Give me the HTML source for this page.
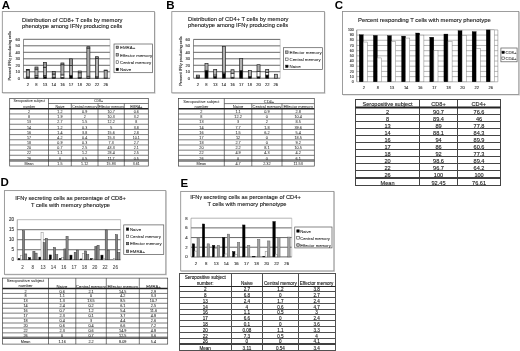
<!DOCTYPE html>
<html lang="en"><head><meta charset="utf-8"><title>Figure</title>
<style>
html,body{margin:0;padding:0;background:#fff;}
body{width:520px;height:351px;overflow:hidden;}
svg{display:block;font-family:"Liberation Sans", sans-serif;}
</style></head><body>
<svg width="520" height="351" viewBox="0 0 520 351">
<rect x="0" y="0" width="520" height="351" fill="#fff"/>
<text x="1.80" y="8.60" font-size="11.5" text-anchor="start" font-weight="bold" fill="#000">A</text>
<line x1="2.80" y1="93.25" x2="155.40" y2="93.25" stroke="#cfcfcf" stroke-width="0.9"/>
<line x1="155.05" y1="12.10" x2="155.05" y2="93.60" stroke="#cfcfcf" stroke-width="0.9"/>
<rect x="2.30" y="11.60" width="152.20" height="81.10" fill="#fff" stroke="#8c8c8c" stroke-width="0.85"/>
<text x="22.00" y="21.60" font-size="5.8" text-anchor="start" font-weight="normal" fill="#222" stroke="#222" stroke-width="0.12">Distribution of CD8+ T cells by memory</text>
<text x="22.00" y="28.10" font-size="5.8" text-anchor="start" font-weight="normal" fill="#222" stroke="#222" stroke-width="0.12">phenotype among IFN<tspan font-size="85%">γ</tspan> producing cells</text>
<line x1="23.50" y1="39.30" x2="110.00" y2="39.30" stroke="#2a2a2a" stroke-width="0.7"/>
<line x1="23.50" y1="45.80" x2="110.00" y2="45.80" stroke="#2a2a2a" stroke-width="0.7"/>
<line x1="23.50" y1="52.30" x2="110.00" y2="52.30" stroke="#2a2a2a" stroke-width="0.7"/>
<line x1="23.50" y1="58.80" x2="110.00" y2="58.80" stroke="#2a2a2a" stroke-width="0.7"/>
<line x1="23.50" y1="65.30" x2="110.00" y2="65.30" stroke="#2a2a2a" stroke-width="0.7"/>
<line x1="23.50" y1="71.80" x2="110.00" y2="71.80" stroke="#2a2a2a" stroke-width="0.7"/>
<line x1="23.50" y1="78.30" x2="110.00" y2="78.30" stroke="#2a2a2a" stroke-width="0.7"/>
<line x1="23.50" y1="39.30" x2="23.50" y2="78.30" stroke="#444" stroke-width="0.6"/>
<line x1="110.00" y1="39.30" x2="110.00" y2="78.30" stroke="#999" stroke-width="0.5"/>
<rect x="26.30" y="77.52" width="3.05" height="0.78" fill="#000" stroke="#222" stroke-width="0.7"/>
<rect x="26.30" y="76.94" width="3.05" height="0.59" fill="#fff" stroke="#222" stroke-width="0.7"/>
<rect x="26.30" y="69.98" width="3.05" height="6.95" fill="#b0b0b0" stroke="#222" stroke-width="0.7"/>
<rect x="26.30" y="69.59" width="3.05" height="0.39" fill="#969696" stroke="#222" stroke-width="0.7"/>
<rect x="34.95" y="77.06" width="3.05" height="1.23" fill="#000" stroke="#222" stroke-width="0.7"/>
<rect x="34.95" y="75.77" width="3.05" height="1.30" fill="#fff" stroke="#222" stroke-width="0.7"/>
<rect x="34.95" y="69.07" width="3.05" height="6.70" fill="#b0b0b0" stroke="#222" stroke-width="0.7"/>
<rect x="34.95" y="66.99" width="3.05" height="2.08" fill="#969696" stroke="#222" stroke-width="0.7"/>
<rect x="43.60" y="76.55" width="3.05" height="1.76" fill="#000" stroke="#222" stroke-width="0.7"/>
<rect x="43.60" y="75.57" width="3.05" height="0.98" fill="#fff" stroke="#222" stroke-width="0.7"/>
<rect x="43.60" y="67.64" width="3.05" height="7.93" fill="#b0b0b0" stroke="#222" stroke-width="0.7"/>
<rect x="43.60" y="62.44" width="3.05" height="5.20" fill="#969696" stroke="#222" stroke-width="0.7"/>
<rect x="52.25" y="77.52" width="3.05" height="0.78" fill="#000" stroke="#222" stroke-width="0.7"/>
<rect x="52.25" y="77.33" width="3.05" height="0.20" fill="#fff" stroke="#222" stroke-width="0.7"/>
<rect x="52.25" y="74.08" width="3.05" height="3.25" fill="#b0b0b0" stroke="#222" stroke-width="0.7"/>
<rect x="52.25" y="71.61" width="3.05" height="2.47" fill="#969696" stroke="#222" stroke-width="0.7"/>
<rect x="60.90" y="77.39" width="3.05" height="0.91" fill="#000" stroke="#222" stroke-width="0.7"/>
<rect x="60.90" y="74.92" width="3.05" height="2.47" fill="#fff" stroke="#222" stroke-width="0.7"/>
<rect x="60.90" y="64.78" width="3.05" height="10.14" fill="#b0b0b0" stroke="#222" stroke-width="0.7"/>
<rect x="60.90" y="62.96" width="3.05" height="1.82" fill="#969696" stroke="#222" stroke-width="0.7"/>
<rect x="69.55" y="75.57" width="3.05" height="2.73" fill="#000" stroke="#222" stroke-width="0.7"/>
<rect x="69.55" y="75.31" width="3.05" height="0.26" fill="#fff" stroke="#222" stroke-width="0.7"/>
<rect x="69.55" y="65.36" width="3.05" height="9.95" fill="#b0b0b0" stroke="#222" stroke-width="0.7"/>
<rect x="69.55" y="58.80" width="3.05" height="6.57" fill="#969696" stroke="#222" stroke-width="0.7"/>
<rect x="78.20" y="77.72" width="3.05" height="0.59" fill="#000" stroke="#222" stroke-width="0.7"/>
<rect x="78.20" y="77.52" width="3.05" height="0.20" fill="#fff" stroke="#222" stroke-width="0.7"/>
<rect x="78.20" y="72.78" width="3.05" height="4.75" fill="#b0b0b0" stroke="#222" stroke-width="0.7"/>
<rect x="78.20" y="71.02" width="3.05" height="1.76" fill="#969696" stroke="#222" stroke-width="0.7"/>
<rect x="86.85" y="77.84" width="3.05" height="0.45" fill="#000" stroke="#222" stroke-width="0.7"/>
<rect x="86.85" y="76.22" width="3.05" height="1.62" fill="#fff" stroke="#222" stroke-width="0.7"/>
<rect x="86.85" y="48.08" width="3.05" height="28.14" fill="#b0b0b0" stroke="#222" stroke-width="0.7"/>
<rect x="86.85" y="46.71" width="3.05" height="1.37" fill="#969696" stroke="#222" stroke-width="0.7"/>
<rect x="95.50" y="77.58" width="3.05" height="0.71" fill="#000" stroke="#222" stroke-width="0.7"/>
<rect x="95.50" y="76.80" width="3.05" height="0.78" fill="#fff" stroke="#222" stroke-width="0.7"/>
<rect x="95.50" y="58.34" width="3.05" height="18.46" fill="#b0b0b0" stroke="#222" stroke-width="0.7"/>
<rect x="95.50" y="56.72" width="3.05" height="1.62" fill="#969696" stroke="#222" stroke-width="0.7"/>
<rect x="104.15" y="77.97" width="3.05" height="0.33" fill="#fff" stroke="#222" stroke-width="0.7"/>
<rect x="104.15" y="70.37" width="3.05" height="7.60" fill="#b0b0b0" stroke="#222" stroke-width="0.7"/>
<rect x="104.15" y="70.04" width="3.05" height="0.33" fill="#969696" stroke="#222" stroke-width="0.7"/>
<text x="19.90" y="40.70" font-size="4.0" text-anchor="end" font-weight="normal" fill="#333" stroke="#333" stroke-width="0.12">60</text>
<text x="19.90" y="47.20" font-size="4.0" text-anchor="end" font-weight="normal" fill="#333" stroke="#333" stroke-width="0.12">50</text>
<text x="19.90" y="53.70" font-size="4.0" text-anchor="end" font-weight="normal" fill="#333" stroke="#333" stroke-width="0.12">40</text>
<text x="19.90" y="60.20" font-size="4.0" text-anchor="end" font-weight="normal" fill="#333" stroke="#333" stroke-width="0.12">30</text>
<text x="19.90" y="66.70" font-size="4.0" text-anchor="end" font-weight="normal" fill="#333" stroke="#333" stroke-width="0.12">20</text>
<text x="19.90" y="73.20" font-size="4.0" text-anchor="end" font-weight="normal" fill="#333" stroke="#333" stroke-width="0.12">10</text>
<text x="19.90" y="79.70" font-size="4.0" text-anchor="end" font-weight="normal" fill="#333" stroke="#333" stroke-width="0.12">0</text>
<text x="27.82" y="86.40" font-size="4.1" text-anchor="middle" font-weight="normal" fill="#333" stroke="#333" stroke-width="0.12">2</text>
<text x="36.48" y="86.40" font-size="4.1" text-anchor="middle" font-weight="normal" fill="#333" stroke="#333" stroke-width="0.12">8</text>
<text x="45.12" y="86.40" font-size="4.1" text-anchor="middle" font-weight="normal" fill="#333" stroke="#333" stroke-width="0.12">13</text>
<text x="53.78" y="86.40" font-size="4.1" text-anchor="middle" font-weight="normal" fill="#333" stroke="#333" stroke-width="0.12">14</text>
<text x="62.43" y="86.40" font-size="4.1" text-anchor="middle" font-weight="normal" fill="#333" stroke="#333" stroke-width="0.12">16</text>
<text x="71.08" y="86.40" font-size="4.1" text-anchor="middle" font-weight="normal" fill="#333" stroke="#333" stroke-width="0.12">17</text>
<text x="79.72" y="86.40" font-size="4.1" text-anchor="middle" font-weight="normal" fill="#333" stroke="#333" stroke-width="0.12">18</text>
<text x="88.38" y="86.40" font-size="4.1" text-anchor="middle" font-weight="normal" fill="#333" stroke="#333" stroke-width="0.12">20</text>
<text x="97.03" y="86.40" font-size="4.1" text-anchor="middle" font-weight="normal" fill="#333" stroke="#333" stroke-width="0.12">22</text>
<text x="105.67" y="86.40" font-size="4.1" text-anchor="middle" font-weight="normal" fill="#333" stroke="#333" stroke-width="0.12">26</text>
<text x="11.40" y="80.60" font-size="3.9" text-anchor="start" font-weight="normal" fill="#333" transform="rotate(-90 11.40 80.60)" stroke="#333" stroke-width="0.12">Percent IFN<tspan font-size="85%">γ</tspan> producing cells</text>
<rect x="114.00" y="44.00" width="38.60" height="28.70" fill="#fff" stroke="#555" stroke-width="0.7"/>
<rect x="116.10" y="46.10" width="2.50" height="2.50" fill="#969696" stroke="#222" stroke-width="0.5"/>
<text x="120.00" y="49.00" font-size="4.4" text-anchor="start" font-weight="normal" fill="#222" stroke="#222" stroke-width="0.05">EMRA+</text>
<rect x="116.10" y="53.60" width="2.50" height="2.50" fill="#b0b0b0" stroke="#222" stroke-width="0.5"/>
<text x="120.00" y="56.50" font-size="4.4" text-anchor="start" font-weight="normal" fill="#222" stroke="#222" stroke-width="0.05">Effector memory</text>
<rect x="116.10" y="60.80" width="2.50" height="2.50" fill="#fff" stroke="#222" stroke-width="0.5"/>
<text x="120.00" y="63.70" font-size="4.4" text-anchor="start" font-weight="normal" fill="#222" stroke="#222" stroke-width="0.05">Central memory</text>
<rect x="116.10" y="68.20" width="2.50" height="2.50" fill="#000" stroke="#222" stroke-width="0.5"/>
<text x="120.00" y="71.10" font-size="4.4" text-anchor="start" font-weight="normal" fill="#222" stroke="#222" stroke-width="0.05">Naive</text>
<text x="166.20" y="8.60" font-size="11.5" text-anchor="start" font-weight="bold" fill="#000">B</text>
<line x1="172.30" y1="93.35" x2="325.30" y2="93.35" stroke="#cfcfcf" stroke-width="0.9"/>
<line x1="324.95" y1="12.10" x2="324.95" y2="93.70" stroke="#cfcfcf" stroke-width="0.9"/>
<rect x="171.80" y="11.60" width="152.60" height="81.20" fill="#fff" stroke="#8c8c8c" stroke-width="0.85"/>
<text x="188.00" y="20.70" font-size="5.8" text-anchor="start" font-weight="normal" fill="#222" stroke="#222" stroke-width="0.12">Distribution of CD4+ T cells by memory</text>
<text x="188.00" y="27.40" font-size="5.8" text-anchor="start" font-weight="normal" fill="#222" stroke="#222" stroke-width="0.12">phenotype among IFN<tspan font-size="85%">γ</tspan> producing cells</text>
<line x1="193.50" y1="39.40" x2="280.20" y2="39.40" stroke="#2a2a2a" stroke-width="0.7"/>
<line x1="193.50" y1="45.87" x2="280.20" y2="45.87" stroke="#2a2a2a" stroke-width="0.7"/>
<line x1="193.50" y1="52.33" x2="280.20" y2="52.33" stroke="#2a2a2a" stroke-width="0.7"/>
<line x1="193.50" y1="58.80" x2="280.20" y2="58.80" stroke="#2a2a2a" stroke-width="0.7"/>
<line x1="193.50" y1="65.27" x2="280.20" y2="65.27" stroke="#2a2a2a" stroke-width="0.7"/>
<line x1="193.50" y1="71.73" x2="280.20" y2="71.73" stroke="#2a2a2a" stroke-width="0.7"/>
<line x1="193.50" y1="78.20" x2="280.20" y2="78.20" stroke="#2a2a2a" stroke-width="0.7"/>
<line x1="193.50" y1="39.40" x2="193.50" y2="78.20" stroke="#444" stroke-width="0.6"/>
<line x1="280.20" y1="39.40" x2="280.20" y2="78.20" stroke="#999" stroke-width="0.5"/>
<rect x="196.31" y="77.49" width="3.05" height="0.71" fill="#000" stroke="#222" stroke-width="0.7"/>
<rect x="196.31" y="76.91" width="3.05" height="0.58" fill="#fff" stroke="#222" stroke-width="0.7"/>
<rect x="196.31" y="75.10" width="3.05" height="1.81" fill="#b0b0b0" stroke="#222" stroke-width="0.7"/>
<rect x="204.98" y="70.31" width="3.05" height="7.89" fill="#000" stroke="#222" stroke-width="0.7"/>
<rect x="204.98" y="63.59" width="3.05" height="6.73" fill="#b0b0b0" stroke="#222" stroke-width="0.7"/>
<rect x="213.65" y="76.26" width="3.05" height="1.94" fill="#000" stroke="#222" stroke-width="0.7"/>
<rect x="213.65" y="74.97" width="3.05" height="1.29" fill="#fff" stroke="#222" stroke-width="0.7"/>
<rect x="213.65" y="69.47" width="3.05" height="5.50" fill="#b0b0b0" stroke="#222" stroke-width="0.7"/>
<rect x="222.32" y="73.22" width="3.05" height="4.98" fill="#000" stroke="#222" stroke-width="0.7"/>
<rect x="222.32" y="72.06" width="3.05" height="1.16" fill="#fff" stroke="#222" stroke-width="0.7"/>
<rect x="222.32" y="46.45" width="3.05" height="25.61" fill="#b0b0b0" stroke="#222" stroke-width="0.7"/>
<rect x="230.99" y="77.23" width="3.05" height="0.97" fill="#000" stroke="#222" stroke-width="0.7"/>
<rect x="230.99" y="73.22" width="3.05" height="4.01" fill="#fff" stroke="#222" stroke-width="0.7"/>
<rect x="230.99" y="69.73" width="3.05" height="3.49" fill="#b0b0b0" stroke="#222" stroke-width="0.7"/>
<rect x="239.66" y="70.44" width="3.05" height="7.76" fill="#000" stroke="#222" stroke-width="0.7"/>
<rect x="239.66" y="58.48" width="3.05" height="11.96" fill="#b0b0b0" stroke="#222" stroke-width="0.7"/>
<rect x="248.33" y="76.45" width="3.05" height="1.75" fill="#000" stroke="#222" stroke-width="0.7"/>
<rect x="248.33" y="70.50" width="3.05" height="5.95" fill="#b0b0b0" stroke="#222" stroke-width="0.7"/>
<rect x="257.00" y="76.78" width="3.05" height="1.42" fill="#000" stroke="#222" stroke-width="0.7"/>
<rect x="257.00" y="71.54" width="3.05" height="5.24" fill="#fff" stroke="#222" stroke-width="0.7"/>
<rect x="257.00" y="64.75" width="3.05" height="6.79" fill="#b0b0b0" stroke="#222" stroke-width="0.7"/>
<rect x="265.67" y="75.03" width="3.05" height="3.17" fill="#000" stroke="#222" stroke-width="0.7"/>
<rect x="265.67" y="72.25" width="3.05" height="2.78" fill="#fff" stroke="#222" stroke-width="0.7"/>
<rect x="265.67" y="69.53" width="3.05" height="2.72" fill="#b0b0b0" stroke="#222" stroke-width="0.7"/>
<rect x="274.34" y="74.26" width="3.05" height="3.94" fill="#b0b0b0" stroke="#222" stroke-width="0.7"/>
<text x="189.90" y="40.80" font-size="4.0" text-anchor="end" font-weight="normal" fill="#333" stroke="#333" stroke-width="0.12">60</text>
<text x="189.90" y="47.27" font-size="4.0" text-anchor="end" font-weight="normal" fill="#333" stroke="#333" stroke-width="0.12">50</text>
<text x="189.90" y="53.73" font-size="4.0" text-anchor="end" font-weight="normal" fill="#333" stroke="#333" stroke-width="0.12">40</text>
<text x="189.90" y="60.20" font-size="4.0" text-anchor="end" font-weight="normal" fill="#333" stroke="#333" stroke-width="0.12">30</text>
<text x="189.90" y="66.67" font-size="4.0" text-anchor="end" font-weight="normal" fill="#333" stroke="#333" stroke-width="0.12">20</text>
<text x="189.90" y="73.13" font-size="4.0" text-anchor="end" font-weight="normal" fill="#333" stroke="#333" stroke-width="0.12">10</text>
<text x="189.90" y="79.60" font-size="4.0" text-anchor="end" font-weight="normal" fill="#333" stroke="#333" stroke-width="0.12">0</text>
<text x="197.84" y="86.10" font-size="4.1" text-anchor="middle" font-weight="normal" fill="#333" stroke="#333" stroke-width="0.12">2</text>
<text x="206.50" y="86.10" font-size="4.1" text-anchor="middle" font-weight="normal" fill="#333" stroke="#333" stroke-width="0.12">8</text>
<text x="215.18" y="86.10" font-size="4.1" text-anchor="middle" font-weight="normal" fill="#333" stroke="#333" stroke-width="0.12">13</text>
<text x="223.84" y="86.10" font-size="4.1" text-anchor="middle" font-weight="normal" fill="#333" stroke="#333" stroke-width="0.12">14</text>
<text x="232.51" y="86.10" font-size="4.1" text-anchor="middle" font-weight="normal" fill="#333" stroke="#333" stroke-width="0.12">16</text>
<text x="241.19" y="86.10" font-size="4.1" text-anchor="middle" font-weight="normal" fill="#333" stroke="#333" stroke-width="0.12">17</text>
<text x="249.85" y="86.10" font-size="4.1" text-anchor="middle" font-weight="normal" fill="#333" stroke="#333" stroke-width="0.12">18</text>
<text x="258.52" y="86.10" font-size="4.1" text-anchor="middle" font-weight="normal" fill="#333" stroke="#333" stroke-width="0.12">20</text>
<text x="267.19" y="86.10" font-size="4.1" text-anchor="middle" font-weight="normal" fill="#333" stroke="#333" stroke-width="0.12">22</text>
<text x="275.87" y="86.10" font-size="4.1" text-anchor="middle" font-weight="normal" fill="#333" stroke="#333" stroke-width="0.12">26</text>
<text x="181.70" y="85.80" font-size="3.9" text-anchor="start" font-weight="normal" fill="#333" transform="rotate(-90 181.70 85.80)" stroke="#333" stroke-width="0.12">Percent IFN<tspan font-size="85%">γ</tspan> producing cells</text>
<rect x="283.50" y="47.70" width="39.10" height="21.90" fill="#fff" stroke="#555" stroke-width="0.7"/>
<rect x="285.60" y="50.90" width="2.50" height="2.50" fill="#b0b0b0" stroke="#222" stroke-width="0.5"/>
<text x="289.50" y="53.80" font-size="4.4" text-anchor="start" font-weight="normal" fill="#222" stroke="#222" stroke-width="0.05">Effector memory</text>
<rect x="285.60" y="58.00" width="2.50" height="2.50" fill="#fff" stroke="#222" stroke-width="0.5"/>
<text x="289.50" y="60.90" font-size="4.4" text-anchor="start" font-weight="normal" fill="#222" stroke="#222" stroke-width="0.05">Central memory</text>
<rect x="285.60" y="65.10" width="2.50" height="2.50" fill="#000" stroke="#222" stroke-width="0.5"/>
<text x="289.50" y="68.00" font-size="4.4" text-anchor="start" font-weight="normal" fill="#222" stroke="#222" stroke-width="0.05">Naive</text>
<text x="334.80" y="8.75" font-size="11.5" text-anchor="start" font-weight="bold" fill="#000">C</text>
<line x1="343.00" y1="95.05" x2="519.70" y2="95.05" stroke="#cfcfcf" stroke-width="0.9"/>
<line x1="519.35" y1="12.00" x2="519.35" y2="95.40" stroke="#cfcfcf" stroke-width="0.9"/>
<rect x="342.50" y="11.50" width="176.30" height="83.00" fill="#fff" stroke="#8c8c8c" stroke-width="0.85"/>
<text x="358.00" y="21.80" font-size="5.85" text-anchor="start" font-weight="normal" fill="#222" stroke="#222" stroke-width="0.12">Percent responding T cells with memory phenotype</text>
<line x1="356.75" y1="29.90" x2="497.85" y2="29.90" stroke="#707070" stroke-width="0.5"/>
<line x1="356.75" y1="35.09" x2="497.85" y2="35.09" stroke="#707070" stroke-width="0.5"/>
<line x1="356.75" y1="40.28" x2="497.85" y2="40.28" stroke="#707070" stroke-width="0.5"/>
<line x1="356.75" y1="45.47" x2="497.85" y2="45.47" stroke="#707070" stroke-width="0.5"/>
<line x1="356.75" y1="50.66" x2="497.85" y2="50.66" stroke="#707070" stroke-width="0.5"/>
<line x1="356.75" y1="55.85" x2="497.85" y2="55.85" stroke="#707070" stroke-width="0.5"/>
<line x1="356.75" y1="61.04" x2="497.85" y2="61.04" stroke="#707070" stroke-width="0.5"/>
<line x1="356.75" y1="66.23" x2="497.85" y2="66.23" stroke="#707070" stroke-width="0.5"/>
<line x1="356.75" y1="71.42" x2="497.85" y2="71.42" stroke="#707070" stroke-width="0.5"/>
<line x1="356.75" y1="76.61" x2="497.85" y2="76.61" stroke="#707070" stroke-width="0.5"/>
<line x1="356.75" y1="81.80" x2="497.85" y2="81.80" stroke="#707070" stroke-width="0.5"/>
<line x1="356.75" y1="29.90" x2="356.75" y2="81.80" stroke="#444" stroke-width="0.6"/>
<line x1="497.85" y1="29.90" x2="497.85" y2="81.80" stroke="#777" stroke-width="0.5"/>
<rect x="359.25" y="34.73" width="4.00" height="47.07" fill="#000" stroke="#000" stroke-width="0.3"/>
<rect x="363.35" y="42.04" width="4.10" height="39.76" fill="#fff" stroke="#777" stroke-width="0.45"/>
<rect x="373.36" y="35.40" width="4.00" height="46.40" fill="#000" stroke="#000" stroke-width="0.3"/>
<rect x="377.46" y="57.93" width="4.10" height="23.87" fill="#fff" stroke="#777" stroke-width="0.45"/>
<rect x="387.47" y="35.61" width="4.00" height="46.19" fill="#000" stroke="#000" stroke-width="0.3"/>
<rect x="391.57" y="41.42" width="4.10" height="40.38" fill="#fff" stroke="#777" stroke-width="0.45"/>
<rect x="401.58" y="36.08" width="4.00" height="45.72" fill="#000" stroke="#000" stroke-width="0.3"/>
<rect x="405.68" y="38.05" width="4.10" height="43.75" fill="#fff" stroke="#777" stroke-width="0.45"/>
<rect x="415.69" y="33.01" width="4.00" height="48.79" fill="#000" stroke="#000" stroke-width="0.3"/>
<rect x="419.79" y="35.14" width="4.10" height="46.66" fill="#fff" stroke="#777" stroke-width="0.45"/>
<rect x="429.80" y="37.17" width="4.00" height="44.63" fill="#000" stroke="#000" stroke-width="0.3"/>
<rect x="433.90" y="50.35" width="4.10" height="31.45" fill="#fff" stroke="#777" stroke-width="0.45"/>
<rect x="443.91" y="34.05" width="4.00" height="47.75" fill="#000" stroke="#000" stroke-width="0.3"/>
<rect x="448.01" y="41.68" width="4.10" height="40.12" fill="#fff" stroke="#777" stroke-width="0.45"/>
<rect x="458.02" y="30.63" width="4.00" height="51.17" fill="#000" stroke="#000" stroke-width="0.3"/>
<rect x="462.12" y="35.40" width="4.10" height="46.40" fill="#fff" stroke="#777" stroke-width="0.45"/>
<rect x="472.13" y="31.61" width="4.00" height="50.19" fill="#000" stroke="#000" stroke-width="0.3"/>
<rect x="476.23" y="48.48" width="4.10" height="33.32" fill="#fff" stroke="#777" stroke-width="0.45"/>
<rect x="486.24" y="29.90" width="4.00" height="51.90" fill="#000" stroke="#000" stroke-width="0.3"/>
<rect x="490.34" y="29.90" width="4.10" height="51.90" fill="#fff" stroke="#777" stroke-width="0.45"/>
<text x="353.70" y="31.10" font-size="3.45" text-anchor="end" font-weight="normal" fill="#333" stroke="#333" stroke-width="0.12">100</text>
<text x="353.70" y="36.29" font-size="3.45" text-anchor="end" font-weight="normal" fill="#333" stroke="#333" stroke-width="0.12">90</text>
<text x="353.70" y="41.48" font-size="3.45" text-anchor="end" font-weight="normal" fill="#333" stroke="#333" stroke-width="0.12">80</text>
<text x="353.70" y="46.67" font-size="3.45" text-anchor="end" font-weight="normal" fill="#333" stroke="#333" stroke-width="0.12">70</text>
<text x="353.70" y="51.86" font-size="3.45" text-anchor="end" font-weight="normal" fill="#333" stroke="#333" stroke-width="0.12">60</text>
<text x="353.70" y="57.05" font-size="3.45" text-anchor="end" font-weight="normal" fill="#333" stroke="#333" stroke-width="0.12">50</text>
<text x="353.70" y="62.24" font-size="3.45" text-anchor="end" font-weight="normal" fill="#333" stroke="#333" stroke-width="0.12">40</text>
<text x="353.70" y="67.43" font-size="3.45" text-anchor="end" font-weight="normal" fill="#333" stroke="#333" stroke-width="0.12">30</text>
<text x="353.70" y="72.62" font-size="3.45" text-anchor="end" font-weight="normal" fill="#333" stroke="#333" stroke-width="0.12">20</text>
<text x="353.70" y="77.81" font-size="3.45" text-anchor="end" font-weight="normal" fill="#333" stroke="#333" stroke-width="0.12">10</text>
<text x="353.70" y="83.00" font-size="3.45" text-anchor="end" font-weight="normal" fill="#333" stroke="#333" stroke-width="0.12">0</text>
<text x="363.81" y="89.20" font-size="4.0" text-anchor="middle" font-weight="normal" fill="#333" stroke="#333" stroke-width="0.12">2</text>
<text x="377.92" y="89.20" font-size="4.0" text-anchor="middle" font-weight="normal" fill="#333" stroke="#333" stroke-width="0.12">8</text>
<text x="392.02" y="89.20" font-size="4.0" text-anchor="middle" font-weight="normal" fill="#333" stroke="#333" stroke-width="0.12">13</text>
<text x="406.13" y="89.20" font-size="4.0" text-anchor="middle" font-weight="normal" fill="#333" stroke="#333" stroke-width="0.12">14</text>
<text x="420.25" y="89.20" font-size="4.0" text-anchor="middle" font-weight="normal" fill="#333" stroke="#333" stroke-width="0.12">16</text>
<text x="434.36" y="89.20" font-size="4.0" text-anchor="middle" font-weight="normal" fill="#333" stroke="#333" stroke-width="0.12">17</text>
<text x="448.47" y="89.20" font-size="4.0" text-anchor="middle" font-weight="normal" fill="#333" stroke="#333" stroke-width="0.12">18</text>
<text x="462.58" y="89.20" font-size="4.0" text-anchor="middle" font-weight="normal" fill="#333" stroke="#333" stroke-width="0.12">20</text>
<text x="476.69" y="89.20" font-size="4.0" text-anchor="middle" font-weight="normal" fill="#333" stroke="#333" stroke-width="0.12">22</text>
<text x="490.80" y="89.20" font-size="4.0" text-anchor="middle" font-weight="normal" fill="#333" stroke="#333" stroke-width="0.12">26</text>
<rect x="500.90" y="48.00" width="16.20" height="13.80" fill="#fff" stroke="#555" stroke-width="0.7"/>
<rect x="501.90" y="51.10" width="2.50" height="2.50" fill="#000" stroke="#222" stroke-width="0.5"/>
<text x="505.50" y="54.00" font-size="4.2" text-anchor="start" font-weight="normal" fill="#222" stroke="#222" stroke-width="0.05">CD8+</text>
<rect x="501.90" y="57.00" width="2.50" height="2.50" fill="#fff" stroke="#222" stroke-width="0.5"/>
<text x="505.50" y="59.90" font-size="4.2" text-anchor="start" font-weight="normal" fill="#222" stroke="#222" stroke-width="0.05">CD4+</text>
<text x="0.60" y="186.00" font-size="11.5" text-anchor="start" font-weight="bold" fill="#000">D</text>
<line x1="4.90" y1="274.85" x2="166.70" y2="274.85" stroke="#cfcfcf" stroke-width="0.9"/>
<line x1="166.35" y1="191.10" x2="166.35" y2="275.20" stroke="#cfcfcf" stroke-width="0.9"/>
<rect x="4.40" y="190.60" width="161.40" height="83.70" fill="#fff" stroke="#8c8c8c" stroke-width="0.85"/>
<text x="70.50" y="199.80" font-size="5.75" text-anchor="middle" font-weight="normal" fill="#222" stroke="#222" stroke-width="0.12">IFN<tspan font-size="85%">γ</tspan> secreting cells as percentage of CD8+</text>
<text x="70.50" y="206.50" font-size="5.75" text-anchor="middle" font-weight="normal" fill="#222" stroke="#222" stroke-width="0.12">T cells with memory phenotype</text>
<line x1="17.25" y1="229.71" x2="120.60" y2="229.71" stroke="#2a2a2a" stroke-width="0.7"/>
<line x1="17.25" y1="239.72" x2="120.60" y2="239.72" stroke="#2a2a2a" stroke-width="0.7"/>
<line x1="17.25" y1="249.74" x2="120.60" y2="249.74" stroke="#2a2a2a" stroke-width="0.7"/>
<line x1="17.25" y1="259.75" x2="120.60" y2="259.75" stroke="#2a2a2a" stroke-width="0.7"/>
<line x1="17.25" y1="219.70" x2="120.60" y2="219.70" stroke="#777" stroke-width="0.5"/>
<line x1="17.25" y1="219.70" x2="17.25" y2="259.75" stroke="#666" stroke-width="0.6"/>
<line x1="120.60" y1="219.70" x2="120.60" y2="259.75" stroke="#999" stroke-width="0.5"/>
<rect x="18.20" y="258.55" width="2.15" height="1.20" fill="#000" stroke="#111" stroke-width="0.5"/>
<rect x="20.35" y="255.54" width="2.15" height="4.21" fill="#fff" stroke="#8a8a8a" stroke-width="0.5"/>
<rect x="22.50" y="230.71" width="2.15" height="29.04" fill="#808080" stroke="#3a3a3a" stroke-width="0.5"/>
<rect x="24.65" y="253.94" width="2.15" height="5.81" fill="#8e8e8e" stroke="#3a3a3a" stroke-width="0.5"/>
<rect x="28.54" y="257.55" width="2.15" height="2.20" fill="#000" stroke="#111" stroke-width="0.5"/>
<rect x="32.84" y="251.34" width="2.15" height="8.41" fill="#808080" stroke="#3a3a3a" stroke-width="0.5"/>
<rect x="34.98" y="253.14" width="2.15" height="6.61" fill="#8e8e8e" stroke="#3a3a3a" stroke-width="0.5"/>
<rect x="38.87" y="257.15" width="2.15" height="2.60" fill="#000" stroke="#111" stroke-width="0.5"/>
<rect x="41.02" y="232.72" width="2.15" height="27.03" fill="#fff" stroke="#8a8a8a" stroke-width="0.5"/>
<rect x="43.17" y="242.73" width="2.15" height="17.02" fill="#808080" stroke="#3a3a3a" stroke-width="0.5"/>
<rect x="45.32" y="238.32" width="2.15" height="21.43" fill="#8e8e8e" stroke="#3a3a3a" stroke-width="0.5"/>
<rect x="49.20" y="254.94" width="2.15" height="4.81" fill="#000" stroke="#111" stroke-width="0.5"/>
<rect x="51.35" y="259.35" width="2.15" height="0.40" fill="#fff" stroke="#8a8a8a" stroke-width="0.5"/>
<rect x="53.50" y="247.53" width="2.15" height="12.22" fill="#808080" stroke="#3a3a3a" stroke-width="0.5"/>
<rect x="55.66" y="254.74" width="2.15" height="5.01" fill="#8e8e8e" stroke="#3a3a3a" stroke-width="0.5"/>
<rect x="59.54" y="258.35" width="2.15" height="1.40" fill="#000" stroke="#111" stroke-width="0.5"/>
<rect x="61.69" y="257.35" width="2.15" height="2.40" fill="#fff" stroke="#8a8a8a" stroke-width="0.5"/>
<rect x="63.84" y="248.94" width="2.15" height="10.81" fill="#808080" stroke="#3a3a3a" stroke-width="0.5"/>
<rect x="65.99" y="236.52" width="2.15" height="23.23" fill="#8e8e8e" stroke="#3a3a3a" stroke-width="0.5"/>
<rect x="69.88" y="255.14" width="2.15" height="4.61" fill="#000" stroke="#111" stroke-width="0.5"/>
<rect x="72.03" y="259.55" width="2.15" height="0.20" fill="#fff" stroke="#8a8a8a" stroke-width="0.5"/>
<rect x="74.17" y="252.34" width="2.15" height="7.41" fill="#808080" stroke="#3a3a3a" stroke-width="0.5"/>
<rect x="76.33" y="250.14" width="2.15" height="9.61" fill="#8e8e8e" stroke="#3a3a3a" stroke-width="0.5"/>
<rect x="80.21" y="258.95" width="2.15" height="0.80" fill="#000" stroke="#111" stroke-width="0.5"/>
<rect x="82.36" y="253.74" width="2.15" height="6.01" fill="#fff" stroke="#8a8a8a" stroke-width="0.5"/>
<rect x="84.51" y="250.94" width="2.15" height="8.81" fill="#808080" stroke="#3a3a3a" stroke-width="0.5"/>
<rect x="86.66" y="254.54" width="2.15" height="5.21" fill="#8e8e8e" stroke="#3a3a3a" stroke-width="0.5"/>
<rect x="90.55" y="258.55" width="2.15" height="1.20" fill="#000" stroke="#111" stroke-width="0.5"/>
<rect x="92.70" y="258.95" width="2.15" height="0.80" fill="#fff" stroke="#8a8a8a" stroke-width="0.5"/>
<rect x="94.84" y="246.53" width="2.15" height="13.22" fill="#808080" stroke="#3a3a3a" stroke-width="0.5"/>
<rect x="97.00" y="245.33" width="2.15" height="14.42" fill="#8e8e8e" stroke="#3a3a3a" stroke-width="0.5"/>
<rect x="100.88" y="255.14" width="2.15" height="4.61" fill="#000" stroke="#111" stroke-width="0.5"/>
<rect x="103.03" y="258.55" width="2.15" height="1.20" fill="#fff" stroke="#8a8a8a" stroke-width="0.5"/>
<rect x="105.18" y="229.91" width="2.15" height="29.84" fill="#808080" stroke="#3a3a3a" stroke-width="0.5"/>
<rect x="107.33" y="250.14" width="2.15" height="9.61" fill="#8e8e8e" stroke="#3a3a3a" stroke-width="0.5"/>
<rect x="113.36" y="258.35" width="2.15" height="1.40" fill="#fff" stroke="#8a8a8a" stroke-width="0.5"/>
<rect x="115.51" y="234.72" width="2.15" height="25.03" fill="#808080" stroke="#3a3a3a" stroke-width="0.5"/>
<rect x="117.66" y="252.54" width="2.15" height="7.21" fill="#8e8e8e" stroke="#3a3a3a" stroke-width="0.5"/>
<text x="14.00" y="221.30" font-size="4.5" text-anchor="end" font-weight="normal" fill="#333" stroke="#333" stroke-width="0.12">20</text>
<text x="14.00" y="231.31" font-size="4.5" text-anchor="end" font-weight="normal" fill="#333" stroke="#333" stroke-width="0.12">15</text>
<text x="14.00" y="241.32" font-size="4.5" text-anchor="end" font-weight="normal" fill="#333" stroke="#333" stroke-width="0.12">10</text>
<text x="14.00" y="251.34" font-size="4.5" text-anchor="end" font-weight="normal" fill="#333" stroke="#333" stroke-width="0.12">5</text>
<text x="14.00" y="261.35" font-size="4.5" text-anchor="end" font-weight="normal" fill="#333" stroke="#333" stroke-width="0.12">0</text>
<text x="22.42" y="268.90" font-size="4.6" text-anchor="middle" font-weight="normal" fill="#444" stroke="#444" stroke-width="0.05">2</text>
<text x="32.75" y="268.90" font-size="4.6" text-anchor="middle" font-weight="normal" fill="#444" stroke="#444" stroke-width="0.05">8</text>
<text x="43.09" y="268.90" font-size="4.6" text-anchor="middle" font-weight="normal" fill="#444" stroke="#444" stroke-width="0.05">13</text>
<text x="53.42" y="268.90" font-size="4.6" text-anchor="middle" font-weight="normal" fill="#444" stroke="#444" stroke-width="0.05">14</text>
<text x="63.76" y="268.90" font-size="4.6" text-anchor="middle" font-weight="normal" fill="#444" stroke="#444" stroke-width="0.05">16</text>
<text x="74.09" y="268.90" font-size="4.6" text-anchor="middle" font-weight="normal" fill="#444" stroke="#444" stroke-width="0.05">17</text>
<text x="84.43" y="268.90" font-size="4.6" text-anchor="middle" font-weight="normal" fill="#444" stroke="#444" stroke-width="0.05">18</text>
<text x="94.76" y="268.90" font-size="4.6" text-anchor="middle" font-weight="normal" fill="#444" stroke="#444" stroke-width="0.05">20</text>
<text x="105.10" y="268.90" font-size="4.6" text-anchor="middle" font-weight="normal" fill="#444" stroke="#444" stroke-width="0.05">22</text>
<text x="115.43" y="268.90" font-size="4.6" text-anchor="middle" font-weight="normal" fill="#444" stroke="#444" stroke-width="0.05">26</text>
<rect x="123.75" y="224.90" width="40.00" height="29.60" fill="#fff" stroke="#555" stroke-width="0.7"/>
<rect x="126.25" y="227.90" width="2.50" height="2.50" fill="#000" stroke="#222" stroke-width="0.5"/>
<text x="129.95" y="230.80" font-size="4.35" text-anchor="start" font-weight="normal" fill="#222" stroke="#222" stroke-width="0.05">Naive</text>
<rect x="126.25" y="235.10" width="2.50" height="2.50" fill="#fff" stroke="#222" stroke-width="0.5"/>
<text x="129.95" y="238.00" font-size="4.35" text-anchor="start" font-weight="normal" fill="#222" stroke="#222" stroke-width="0.05">Central memory</text>
<rect x="126.25" y="242.30" width="2.50" height="2.50" fill="#808080" stroke="#222" stroke-width="0.5"/>
<text x="129.95" y="245.20" font-size="4.35" text-anchor="start" font-weight="normal" fill="#222" stroke="#222" stroke-width="0.05">Effector memory</text>
<rect x="126.25" y="250.00" width="2.50" height="2.50" fill="#8e8e8e" stroke="#222" stroke-width="0.5"/>
<text x="129.95" y="252.90" font-size="4.35" text-anchor="start" font-weight="normal" fill="#222" stroke="#222" stroke-width="0.05">EMRA+</text>
<text x="180.40" y="187.00" font-size="11.5" text-anchor="start" font-weight="bold" fill="#000">E</text>
<line x1="181.20" y1="271.45" x2="334.80" y2="271.45" stroke="#cfcfcf" stroke-width="0.9"/>
<line x1="334.45" y1="191.90" x2="334.45" y2="271.80" stroke="#cfcfcf" stroke-width="0.9"/>
<rect x="180.70" y="191.40" width="153.20" height="79.50" fill="#fff" stroke="#8c8c8c" stroke-width="0.85"/>
<text x="245.50" y="199.40" font-size="5.75" text-anchor="middle" font-weight="normal" fill="#222" stroke="#222" stroke-width="0.12">IFN<tspan font-size="85%">γ</tspan> secreting cells as percentage of CD4+</text>
<text x="247.00" y="206.40" font-size="5.75" text-anchor="middle" font-weight="normal" fill="#222" stroke="#222" stroke-width="0.12">T cells with memory phenotype</text>
<line x1="191.00" y1="227.88" x2="291.75" y2="227.88" stroke="#2a2a2a" stroke-width="0.7"/>
<line x1="191.00" y1="237.55" x2="291.75" y2="237.55" stroke="#2a2a2a" stroke-width="0.7"/>
<line x1="191.00" y1="247.22" x2="291.75" y2="247.22" stroke="#2a2a2a" stroke-width="0.7"/>
<line x1="191.00" y1="256.90" x2="291.75" y2="256.90" stroke="#2a2a2a" stroke-width="0.7"/>
<line x1="191.00" y1="218.20" x2="291.75" y2="218.20" stroke="#666" stroke-width="0.5"/>
<line x1="191.00" y1="218.20" x2="191.00" y2="256.90" stroke="#888" stroke-width="0.6"/>
<line x1="291.75" y1="218.20" x2="291.75" y2="256.90" stroke="#999" stroke-width="0.5"/>
<rect x="192.25" y="243.84" width="2.40" height="13.06" fill="#000" stroke="#111" stroke-width="0.5"/>
<rect x="194.65" y="251.09" width="2.40" height="5.80" fill="#fff" stroke="#8a8a8a" stroke-width="0.5"/>
<rect x="197.05" y="238.52" width="2.40" height="18.38" fill="#a2a2a2" stroke="#606060" stroke-width="0.5"/>
<rect x="202.32" y="224.00" width="2.40" height="32.89" fill="#000" stroke="#111" stroke-width="0.5"/>
<rect x="207.12" y="243.84" width="2.40" height="13.06" fill="#a2a2a2" stroke="#606060" stroke-width="0.5"/>
<rect x="212.40" y="245.29" width="2.40" height="11.61" fill="#000" stroke="#111" stroke-width="0.5"/>
<rect x="214.80" y="248.68" width="2.40" height="8.22" fill="#fff" stroke="#8a8a8a" stroke-width="0.5"/>
<rect x="217.20" y="245.29" width="2.40" height="11.61" fill="#a2a2a2" stroke="#606060" stroke-width="0.5"/>
<rect x="222.47" y="237.55" width="2.40" height="19.35" fill="#000" stroke="#111" stroke-width="0.5"/>
<rect x="224.88" y="254.00" width="2.40" height="2.90" fill="#fff" stroke="#8a8a8a" stroke-width="0.5"/>
<rect x="227.28" y="234.16" width="2.40" height="22.74" fill="#a2a2a2" stroke="#606060" stroke-width="0.5"/>
<rect x="232.55" y="251.58" width="2.40" height="5.32" fill="#000" stroke="#111" stroke-width="0.5"/>
<rect x="234.95" y="254.48" width="2.40" height="2.42" fill="#fff" stroke="#8a8a8a" stroke-width="0.5"/>
<rect x="237.35" y="242.39" width="2.40" height="14.51" fill="#a2a2a2" stroke="#606060" stroke-width="0.5"/>
<rect x="242.62" y="224.97" width="2.40" height="31.93" fill="#000" stroke="#111" stroke-width="0.5"/>
<rect x="247.43" y="245.29" width="2.40" height="11.61" fill="#a2a2a2" stroke="#606060" stroke-width="0.5"/>
<rect x="252.70" y="256.42" width="2.40" height="0.48" fill="#000" stroke="#111" stroke-width="0.5"/>
<rect x="257.50" y="239.48" width="2.40" height="17.41" fill="#a2a2a2" stroke="#606060" stroke-width="0.5"/>
<rect x="262.77" y="256.51" width="2.40" height="0.39" fill="#000" stroke="#111" stroke-width="0.5"/>
<rect x="265.17" y="251.58" width="2.40" height="5.32" fill="#fff" stroke="#8a8a8a" stroke-width="0.5"/>
<rect x="267.57" y="240.94" width="2.40" height="15.96" fill="#a2a2a2" stroke="#606060" stroke-width="0.5"/>
<rect x="272.85" y="221.59" width="2.40" height="35.31" fill="#000" stroke="#111" stroke-width="0.5"/>
<rect x="275.25" y="254.48" width="2.40" height="2.42" fill="#fff" stroke="#8a8a8a" stroke-width="0.5"/>
<rect x="277.65" y="237.55" width="2.40" height="19.35" fill="#a2a2a2" stroke="#606060" stroke-width="0.5"/>
<rect x="287.73" y="237.07" width="2.40" height="19.83" fill="#a2a2a2" stroke="#606060" stroke-width="0.5"/>
<text x="187.60" y="219.70" font-size="4.3" text-anchor="end" font-weight="normal" fill="#333" stroke="#333" stroke-width="0.12">8</text>
<text x="187.60" y="229.38" font-size="4.3" text-anchor="end" font-weight="normal" fill="#333" stroke="#333" stroke-width="0.12">6</text>
<text x="187.60" y="239.05" font-size="4.3" text-anchor="end" font-weight="normal" fill="#333" stroke="#333" stroke-width="0.12">4</text>
<text x="187.60" y="248.72" font-size="4.3" text-anchor="end" font-weight="normal" fill="#333" stroke="#333" stroke-width="0.12">2</text>
<text x="187.60" y="258.40" font-size="4.3" text-anchor="end" font-weight="normal" fill="#333" stroke="#333" stroke-width="0.12">0</text>
<text x="196.04" y="264.90" font-size="4.3" text-anchor="middle" font-weight="normal" fill="#333" stroke="#333" stroke-width="0.12">2</text>
<text x="206.11" y="264.90" font-size="4.3" text-anchor="middle" font-weight="normal" fill="#333" stroke="#333" stroke-width="0.12">8</text>
<text x="216.19" y="264.90" font-size="4.3" text-anchor="middle" font-weight="normal" fill="#333" stroke="#333" stroke-width="0.12">13</text>
<text x="226.26" y="264.90" font-size="4.3" text-anchor="middle" font-weight="normal" fill="#333" stroke="#333" stroke-width="0.12">14</text>
<text x="236.34" y="264.90" font-size="4.3" text-anchor="middle" font-weight="normal" fill="#333" stroke="#333" stroke-width="0.12">16</text>
<text x="246.41" y="264.90" font-size="4.3" text-anchor="middle" font-weight="normal" fill="#333" stroke="#333" stroke-width="0.12">17</text>
<text x="256.49" y="264.90" font-size="4.3" text-anchor="middle" font-weight="normal" fill="#333" stroke="#333" stroke-width="0.12">18</text>
<text x="266.56" y="264.90" font-size="4.3" text-anchor="middle" font-weight="normal" fill="#333" stroke="#333" stroke-width="0.12">20</text>
<text x="276.64" y="264.90" font-size="4.3" text-anchor="middle" font-weight="normal" fill="#333" stroke="#333" stroke-width="0.12">22</text>
<text x="286.71" y="264.90" font-size="4.3" text-anchor="middle" font-weight="normal" fill="#333" stroke="#333" stroke-width="0.12">26</text>
<rect x="294.75" y="227.00" width="37.25" height="20.90" fill="#fff" stroke="#555" stroke-width="0.7"/>
<rect x="296.75" y="229.75" width="2.50" height="2.50" fill="#000" stroke="#222" stroke-width="0.5"/>
<text x="300.15" y="232.65" font-size="4.2" text-anchor="start" font-weight="normal" fill="#222" stroke="#222" stroke-width="0.05">Naive</text>
<rect x="296.75" y="236.60" width="2.50" height="2.50" fill="#fff" stroke="#222" stroke-width="0.5"/>
<text x="300.15" y="239.50" font-size="4.2" text-anchor="start" font-weight="normal" fill="#222" stroke="#222" stroke-width="0.05">Central memory</text>
<rect x="296.75" y="243.75" width="2.50" height="2.50" fill="#b0b0b0" stroke="#222" stroke-width="0.5"/>
<text x="300.15" y="246.65" font-size="4.2" text-anchor="start" font-weight="normal" fill="#222" stroke="#222" stroke-width="0.05">Effector memory</text>
<rect x="9.70" y="98.50" width="138.60" height="67.55" fill="#fff" stroke="#3c3c3c" stroke-width="0.68"/>
<line x1="48.50" y1="98.50" x2="48.50" y2="166.05" stroke="#3c3c3c" stroke-width="0.68"/>
<line x1="71.30" y1="103.50" x2="71.30" y2="166.05" stroke="#3c3c3c" stroke-width="0.68"/>
<line x1="98.00" y1="103.50" x2="98.00" y2="166.05" stroke="#3c3c3c" stroke-width="0.68"/>
<line x1="124.30" y1="103.50" x2="124.30" y2="166.05" stroke="#3c3c3c" stroke-width="0.68"/>
<line x1="48.50" y1="103.50" x2="148.30" y2="103.50" stroke="#3c3c3c" stroke-width="0.68"/>
<line x1="9.70" y1="108.75" x2="148.30" y2="108.75" stroke="#222" stroke-width="1.36"/>
<line x1="9.70" y1="113.92" x2="148.30" y2="113.92" stroke="#3c3c3c" stroke-width="0.68"/>
<line x1="9.70" y1="119.09" x2="148.30" y2="119.09" stroke="#3c3c3c" stroke-width="0.68"/>
<line x1="9.70" y1="124.26" x2="148.30" y2="124.26" stroke="#3c3c3c" stroke-width="0.68"/>
<line x1="9.70" y1="129.43" x2="148.30" y2="129.43" stroke="#3c3c3c" stroke-width="0.68"/>
<line x1="9.70" y1="134.60" x2="148.30" y2="134.60" stroke="#3c3c3c" stroke-width="0.68"/>
<line x1="9.70" y1="139.77" x2="148.30" y2="139.77" stroke="#3c3c3c" stroke-width="0.68"/>
<line x1="9.70" y1="144.94" x2="148.30" y2="144.94" stroke="#3c3c3c" stroke-width="0.68"/>
<line x1="9.70" y1="150.11" x2="148.30" y2="150.11" stroke="#3c3c3c" stroke-width="0.68"/>
<line x1="9.70" y1="155.28" x2="148.30" y2="155.28" stroke="#3c3c3c" stroke-width="0.68"/>
<line x1="9.70" y1="159.85" x2="148.30" y2="159.85" stroke="#222" stroke-width="0.8160000000000001"/>
<line x1="9.70" y1="161.05" x2="148.30" y2="161.05" stroke="#222" stroke-width="0.8160000000000001"/>
<text x="29.20" y="102.30" font-size="3.5" text-anchor="middle" font-weight="normal" fill="#333" stroke="#333" stroke-width="0.04">Seropositive subject</text>
<text x="29.20" y="107.60" font-size="3.5" text-anchor="middle" font-weight="normal" fill="#333" stroke="#333" stroke-width="0.04">number</text>
<text x="98.50" y="102.40" font-size="3.5" text-anchor="middle" font-weight="normal" fill="#333" stroke="#333" stroke-width="0.04">CD8+</text>
<text x="60.00" y="107.80" font-size="3.5" text-anchor="middle" font-weight="normal" fill="#333" stroke="#333" stroke-width="0.04">Naive</text>
<text x="84.70" y="107.80" font-size="3.5" text-anchor="middle" font-weight="normal" fill="#333" stroke="#333" stroke-width="0.04">Central memory</text>
<text x="111.20" y="107.80" font-size="3.5" text-anchor="middle" font-weight="normal" fill="#333" stroke="#333" stroke-width="0.04">Effector memory</text>
<text x="136.30" y="107.80" font-size="3.5" text-anchor="middle" font-weight="normal" fill="#333" stroke="#333" stroke-width="0.04">EMRA+</text>
<text x="29.10" y="113.02" font-size="3.65" text-anchor="middle" font-weight="normal" fill="#333" stroke="#333" stroke-width="0.04">2</text>
<text x="59.90" y="113.02" font-size="3.65" text-anchor="middle" font-weight="normal" fill="#333" stroke="#333" stroke-width="0.04">1.2</text>
<text x="84.65" y="113.02" font-size="3.65" text-anchor="middle" font-weight="normal" fill="#333" stroke="#333" stroke-width="0.04">0.9</text>
<text x="111.15" y="113.02" font-size="3.65" text-anchor="middle" font-weight="normal" fill="#333" stroke="#333" stroke-width="0.04">10.7</text>
<text x="136.30" y="113.02" font-size="3.65" text-anchor="middle" font-weight="normal" fill="#333" stroke="#333" stroke-width="0.04">0.6</text>
<text x="29.10" y="118.19" font-size="3.65" text-anchor="middle" font-weight="normal" fill="#333" stroke="#333" stroke-width="0.04">8</text>
<text x="59.90" y="118.19" font-size="3.65" text-anchor="middle" font-weight="normal" fill="#333" stroke="#333" stroke-width="0.04">1.9</text>
<text x="84.65" y="118.19" font-size="3.65" text-anchor="middle" font-weight="normal" fill="#333" stroke="#333" stroke-width="0.04">2</text>
<text x="111.15" y="118.19" font-size="3.65" text-anchor="middle" font-weight="normal" fill="#333" stroke="#333" stroke-width="0.04">10.3</text>
<text x="136.30" y="118.19" font-size="3.65" text-anchor="middle" font-weight="normal" fill="#333" stroke="#333" stroke-width="0.04">3.2</text>
<text x="29.10" y="123.36" font-size="3.65" text-anchor="middle" font-weight="normal" fill="#333" stroke="#333" stroke-width="0.04">13</text>
<text x="59.90" y="123.36" font-size="3.65" text-anchor="middle" font-weight="normal" fill="#333" stroke="#333" stroke-width="0.04">2.7</text>
<text x="84.65" y="123.36" font-size="3.65" text-anchor="middle" font-weight="normal" fill="#333" stroke="#333" stroke-width="0.04">1.5</text>
<text x="111.15" y="123.36" font-size="3.65" text-anchor="middle" font-weight="normal" fill="#333" stroke="#333" stroke-width="0.04">12.2</text>
<text x="136.30" y="123.36" font-size="3.65" text-anchor="middle" font-weight="normal" fill="#333" stroke="#333" stroke-width="0.04">8</text>
<text x="29.10" y="128.53" font-size="3.65" text-anchor="middle" font-weight="normal" fill="#333" stroke="#333" stroke-width="0.04">14</text>
<text x="59.90" y="128.53" font-size="3.65" text-anchor="middle" font-weight="normal" fill="#333" stroke="#333" stroke-width="0.04">1.2</text>
<text x="84.65" y="128.53" font-size="3.65" text-anchor="middle" font-weight="normal" fill="#333" stroke="#333" stroke-width="0.04">0.3</text>
<text x="111.15" y="128.53" font-size="3.65" text-anchor="middle" font-weight="normal" fill="#333" stroke="#333" stroke-width="0.04">5</text>
<text x="136.30" y="128.53" font-size="3.65" text-anchor="middle" font-weight="normal" fill="#333" stroke="#333" stroke-width="0.04">3.8</text>
<text x="29.10" y="133.70" font-size="3.65" text-anchor="middle" font-weight="normal" fill="#333" stroke="#333" stroke-width="0.04">16</text>
<text x="59.90" y="133.70" font-size="3.65" text-anchor="middle" font-weight="normal" fill="#333" stroke="#333" stroke-width="0.04">1.4</text>
<text x="84.65" y="133.70" font-size="3.65" text-anchor="middle" font-weight="normal" fill="#333" stroke="#333" stroke-width="0.04">3.8</text>
<text x="111.15" y="133.70" font-size="3.65" text-anchor="middle" font-weight="normal" fill="#333" stroke="#333" stroke-width="0.04">15.6</text>
<text x="136.30" y="133.70" font-size="3.65" text-anchor="middle" font-weight="normal" fill="#333" stroke="#333" stroke-width="0.04">2.8</text>
<text x="29.10" y="138.87" font-size="3.65" text-anchor="middle" font-weight="normal" fill="#333" stroke="#333" stroke-width="0.04">17</text>
<text x="59.90" y="138.87" font-size="3.65" text-anchor="middle" font-weight="normal" fill="#333" stroke="#333" stroke-width="0.04">4.2</text>
<text x="84.65" y="138.87" font-size="3.65" text-anchor="middle" font-weight="normal" fill="#333" stroke="#333" stroke-width="0.04">0.4</text>
<text x="111.15" y="138.87" font-size="3.65" text-anchor="middle" font-weight="normal" fill="#333" stroke="#333" stroke-width="0.04">15.3</text>
<text x="136.30" y="138.87" font-size="3.65" text-anchor="middle" font-weight="normal" fill="#333" stroke="#333" stroke-width="0.04">10.1</text>
<text x="29.10" y="144.04" font-size="3.65" text-anchor="middle" font-weight="normal" fill="#333" stroke="#333" stroke-width="0.04">18</text>
<text x="59.90" y="144.04" font-size="3.65" text-anchor="middle" font-weight="normal" fill="#333" stroke="#333" stroke-width="0.04">0.9</text>
<text x="84.65" y="144.04" font-size="3.65" text-anchor="middle" font-weight="normal" fill="#333" stroke="#333" stroke-width="0.04">0.3</text>
<text x="111.15" y="144.04" font-size="3.65" text-anchor="middle" font-weight="normal" fill="#333" stroke="#333" stroke-width="0.04">7.3</text>
<text x="136.30" y="144.04" font-size="3.65" text-anchor="middle" font-weight="normal" fill="#333" stroke="#333" stroke-width="0.04">2.7</text>
<text x="29.10" y="149.21" font-size="3.65" text-anchor="middle" font-weight="normal" fill="#333" stroke="#333" stroke-width="0.04">20</text>
<text x="59.90" y="149.21" font-size="3.65" text-anchor="middle" font-weight="normal" fill="#333" stroke="#333" stroke-width="0.04">0.7</text>
<text x="84.65" y="149.21" font-size="3.65" text-anchor="middle" font-weight="normal" fill="#333" stroke="#333" stroke-width="0.04">2.5</text>
<text x="111.15" y="149.21" font-size="3.65" text-anchor="middle" font-weight="normal" fill="#333" stroke="#333" stroke-width="0.04">43.3</text>
<text x="136.30" y="149.21" font-size="3.65" text-anchor="middle" font-weight="normal" fill="#333" stroke="#333" stroke-width="0.04">2.1</text>
<text x="29.10" y="154.38" font-size="3.65" text-anchor="middle" font-weight="normal" fill="#333" stroke="#333" stroke-width="0.04">22</text>
<text x="59.90" y="154.38" font-size="3.65" text-anchor="middle" font-weight="normal" fill="#333" stroke="#333" stroke-width="0.04">1.1</text>
<text x="84.65" y="154.38" font-size="3.65" text-anchor="middle" font-weight="normal" fill="#333" stroke="#333" stroke-width="0.04">1.2</text>
<text x="111.15" y="154.38" font-size="3.65" text-anchor="middle" font-weight="normal" fill="#333" stroke="#333" stroke-width="0.04">28.4</text>
<text x="136.30" y="154.38" font-size="3.65" text-anchor="middle" font-weight="normal" fill="#333" stroke="#333" stroke-width="0.04">2.5</text>
<text x="29.10" y="159.55" font-size="3.65" text-anchor="middle" font-weight="normal" fill="#333" stroke="#333" stroke-width="0.04">26</text>
<text x="59.90" y="159.55" font-size="3.65" text-anchor="middle" font-weight="normal" fill="#333" stroke="#333" stroke-width="0.04">0</text>
<text x="84.65" y="159.55" font-size="3.65" text-anchor="middle" font-weight="normal" fill="#333" stroke="#333" stroke-width="0.04">0.5</text>
<text x="111.15" y="159.55" font-size="3.65" text-anchor="middle" font-weight="normal" fill="#333" stroke="#333" stroke-width="0.04">11.7</text>
<text x="136.30" y="159.55" font-size="3.65" text-anchor="middle" font-weight="normal" fill="#333" stroke="#333" stroke-width="0.04">0.5</text>
<text x="29.10" y="165.15" font-size="3.65" text-anchor="middle" font-weight="normal" fill="#333" stroke="#333" stroke-width="0.04">Mean</text>
<text x="59.90" y="165.15" font-size="3.65" text-anchor="middle" font-weight="normal" fill="#333" stroke="#333" stroke-width="0.04">1.5</text>
<text x="84.65" y="165.15" font-size="3.65" text-anchor="middle" font-weight="normal" fill="#333" stroke="#333" stroke-width="0.04">1.12</text>
<text x="111.15" y="165.15" font-size="3.65" text-anchor="middle" font-weight="normal" fill="#333" stroke="#333" stroke-width="0.04">15.93</text>
<text x="136.30" y="165.15" font-size="3.65" text-anchor="middle" font-weight="normal" fill="#333" stroke="#333" stroke-width="0.04">3.61</text>
<rect x="178.50" y="98.50" width="135.80" height="67.60" fill="#fff" stroke="#3c3c3c" stroke-width="0.68"/>
<line x1="224.30" y1="98.50" x2="224.30" y2="166.10" stroke="#3c3c3c" stroke-width="0.68"/>
<line x1="251.80" y1="103.60" x2="251.80" y2="166.10" stroke="#3c3c3c" stroke-width="0.68"/>
<line x1="282.00" y1="103.60" x2="282.00" y2="166.10" stroke="#3c3c3c" stroke-width="0.68"/>
<line x1="224.30" y1="103.60" x2="314.30" y2="103.60" stroke="#3c3c3c" stroke-width="0.68"/>
<line x1="178.50" y1="108.80" x2="314.30" y2="108.80" stroke="#222" stroke-width="1.36"/>
<line x1="178.50" y1="113.97" x2="314.30" y2="113.97" stroke="#3c3c3c" stroke-width="0.68"/>
<line x1="178.50" y1="119.14" x2="314.30" y2="119.14" stroke="#3c3c3c" stroke-width="0.68"/>
<line x1="178.50" y1="124.31" x2="314.30" y2="124.31" stroke="#3c3c3c" stroke-width="0.68"/>
<line x1="178.50" y1="129.48" x2="314.30" y2="129.48" stroke="#3c3c3c" stroke-width="0.68"/>
<line x1="178.50" y1="134.65" x2="314.30" y2="134.65" stroke="#3c3c3c" stroke-width="0.68"/>
<line x1="178.50" y1="139.82" x2="314.30" y2="139.82" stroke="#3c3c3c" stroke-width="0.68"/>
<line x1="178.50" y1="144.99" x2="314.30" y2="144.99" stroke="#3c3c3c" stroke-width="0.68"/>
<line x1="178.50" y1="150.16" x2="314.30" y2="150.16" stroke="#3c3c3c" stroke-width="0.68"/>
<line x1="178.50" y1="155.33" x2="314.30" y2="155.33" stroke="#3c3c3c" stroke-width="0.68"/>
<line x1="178.50" y1="159.90" x2="314.30" y2="159.90" stroke="#222" stroke-width="0.8160000000000001"/>
<line x1="178.50" y1="161.10" x2="314.30" y2="161.10" stroke="#222" stroke-width="0.8160000000000001"/>
<text x="201.40" y="102.60" font-size="4.05" text-anchor="middle" font-weight="normal" fill="#333" stroke="#333" stroke-width="0.04">Seropositive subject</text>
<text x="201.40" y="107.80" font-size="4.05" text-anchor="middle" font-weight="normal" fill="#333" stroke="#333" stroke-width="0.04">number</text>
<text x="269.00" y="102.60" font-size="4.05" text-anchor="middle" font-weight="normal" fill="#333" stroke="#333" stroke-width="0.04">CD4+</text>
<text x="238.00" y="108.00" font-size="4.05" text-anchor="middle" font-weight="normal" fill="#333" stroke="#333" stroke-width="0.04">Naive</text>
<text x="267.00" y="108.00" font-size="4.05" text-anchor="middle" font-weight="normal" fill="#333" stroke="#333" stroke-width="0.04">Central memory</text>
<text x="298.20" y="108.00" font-size="4.05" text-anchor="middle" font-weight="normal" fill="#333" stroke="#333" stroke-width="0.04">Effector memory</text>
<text x="201.40" y="113.07" font-size="3.85" text-anchor="middle" font-weight="normal" fill="#333" stroke="#333" stroke-width="0.04">2</text>
<text x="238.05" y="113.07" font-size="3.85" text-anchor="middle" font-weight="normal" fill="#333" stroke="#333" stroke-width="0.04">1.1</text>
<text x="266.90" y="113.07" font-size="3.85" text-anchor="middle" font-weight="normal" fill="#333" stroke="#333" stroke-width="0.04">0.9</text>
<text x="298.15" y="113.07" font-size="3.85" text-anchor="middle" font-weight="normal" fill="#333" stroke="#333" stroke-width="0.04">2.8</text>
<text x="201.40" y="118.24" font-size="3.85" text-anchor="middle" font-weight="normal" fill="#333" stroke="#333" stroke-width="0.04">8</text>
<text x="238.05" y="118.24" font-size="3.85" text-anchor="middle" font-weight="normal" fill="#333" stroke="#333" stroke-width="0.04">12.2</text>
<text x="266.90" y="118.24" font-size="3.85" text-anchor="middle" font-weight="normal" fill="#333" stroke="#333" stroke-width="0.04">0</text>
<text x="298.15" y="118.24" font-size="3.85" text-anchor="middle" font-weight="normal" fill="#333" stroke="#333" stroke-width="0.04">10.4</text>
<text x="201.40" y="123.41" font-size="3.85" text-anchor="middle" font-weight="normal" fill="#333" stroke="#333" stroke-width="0.04">13</text>
<text x="238.05" y="123.41" font-size="3.85" text-anchor="middle" font-weight="normal" fill="#333" stroke="#333" stroke-width="0.04">3</text>
<text x="266.90" y="123.41" font-size="3.85" text-anchor="middle" font-weight="normal" fill="#333" stroke="#333" stroke-width="0.04">2</text>
<text x="298.15" y="123.41" font-size="3.85" text-anchor="middle" font-weight="normal" fill="#333" stroke="#333" stroke-width="0.04">8.5</text>
<text x="201.40" y="128.58" font-size="3.85" text-anchor="middle" font-weight="normal" fill="#333" stroke="#333" stroke-width="0.04">14</text>
<text x="238.05" y="128.58" font-size="3.85" text-anchor="middle" font-weight="normal" fill="#333" stroke="#333" stroke-width="0.04">7.7</text>
<text x="266.90" y="128.58" font-size="3.85" text-anchor="middle" font-weight="normal" fill="#333" stroke="#333" stroke-width="0.04">1.8</text>
<text x="298.15" y="128.58" font-size="3.85" text-anchor="middle" font-weight="normal" fill="#333" stroke="#333" stroke-width="0.04">39.6</text>
<text x="201.40" y="133.75" font-size="3.85" text-anchor="middle" font-weight="normal" fill="#333" stroke="#333" stroke-width="0.04">16</text>
<text x="238.05" y="133.75" font-size="3.85" text-anchor="middle" font-weight="normal" fill="#333" stroke="#333" stroke-width="0.04">1.5</text>
<text x="266.90" y="133.75" font-size="3.85" text-anchor="middle" font-weight="normal" fill="#333" stroke="#333" stroke-width="0.04">6.2</text>
<text x="298.15" y="133.75" font-size="3.85" text-anchor="middle" font-weight="normal" fill="#333" stroke="#333" stroke-width="0.04">5.4</text>
<text x="201.40" y="138.92" font-size="3.85" text-anchor="middle" font-weight="normal" fill="#333" stroke="#333" stroke-width="0.04">17</text>
<text x="238.05" y="138.92" font-size="3.85" text-anchor="middle" font-weight="normal" fill="#333" stroke="#333" stroke-width="0.04">12</text>
<text x="266.90" y="138.92" font-size="3.85" text-anchor="middle" font-weight="normal" fill="#333" stroke="#333" stroke-width="0.04">0</text>
<text x="298.15" y="138.92" font-size="3.85" text-anchor="middle" font-weight="normal" fill="#333" stroke="#333" stroke-width="0.04">18.5</text>
<text x="201.40" y="144.09" font-size="3.85" text-anchor="middle" font-weight="normal" fill="#333" stroke="#333" stroke-width="0.04">18</text>
<text x="238.05" y="144.09" font-size="3.85" text-anchor="middle" font-weight="normal" fill="#333" stroke="#333" stroke-width="0.04">2.7</text>
<text x="266.90" y="144.09" font-size="3.85" text-anchor="middle" font-weight="normal" fill="#333" stroke="#333" stroke-width="0.04">0</text>
<text x="298.15" y="144.09" font-size="3.85" text-anchor="middle" font-weight="normal" fill="#333" stroke="#333" stroke-width="0.04">9.2</text>
<text x="201.40" y="149.26" font-size="3.85" text-anchor="middle" font-weight="normal" fill="#333" stroke="#333" stroke-width="0.04">20</text>
<text x="238.05" y="149.26" font-size="3.85" text-anchor="middle" font-weight="normal" fill="#333" stroke="#333" stroke-width="0.04">2.2</text>
<text x="266.90" y="149.26" font-size="3.85" text-anchor="middle" font-weight="normal" fill="#333" stroke="#333" stroke-width="0.04">8.1</text>
<text x="298.15" y="149.26" font-size="3.85" text-anchor="middle" font-weight="normal" fill="#333" stroke="#333" stroke-width="0.04">10.5</text>
<text x="201.40" y="154.43" font-size="3.85" text-anchor="middle" font-weight="normal" fill="#333" stroke="#333" stroke-width="0.04">22</text>
<text x="238.05" y="154.43" font-size="3.85" text-anchor="middle" font-weight="normal" fill="#333" stroke="#333" stroke-width="0.04">4.9</text>
<text x="266.90" y="154.43" font-size="3.85" text-anchor="middle" font-weight="normal" fill="#333" stroke="#333" stroke-width="0.04">4.3</text>
<text x="298.15" y="154.43" font-size="3.85" text-anchor="middle" font-weight="normal" fill="#333" stroke="#333" stroke-width="0.04">4.2</text>
<text x="201.40" y="159.60" font-size="3.85" text-anchor="middle" font-weight="normal" fill="#333" stroke="#333" stroke-width="0.04">26</text>
<text x="238.05" y="159.60" font-size="3.85" text-anchor="middle" font-weight="normal" fill="#333" stroke="#333" stroke-width="0.04">0</text>
<text x="266.90" y="159.60" font-size="3.85" text-anchor="middle" font-weight="normal" fill="#333" stroke="#333" stroke-width="0.04">0</text>
<text x="298.15" y="159.60" font-size="3.85" text-anchor="middle" font-weight="normal" fill="#333" stroke="#333" stroke-width="0.04">6.1</text>
<text x="201.40" y="165.20" font-size="3.85" text-anchor="middle" font-weight="normal" fill="#333" stroke="#333" stroke-width="0.04">Mean</text>
<text x="238.05" y="165.20" font-size="3.85" text-anchor="middle" font-weight="normal" fill="#333" stroke="#333" stroke-width="0.04">4.7</text>
<text x="266.90" y="165.20" font-size="3.85" text-anchor="middle" font-weight="normal" fill="#333" stroke="#333" stroke-width="0.04">2.32</text>
<text x="298.15" y="165.20" font-size="3.85" text-anchor="middle" font-weight="normal" fill="#333" stroke="#333" stroke-width="0.04">11.53</text>
<rect x="355.50" y="99.50" width="145.00" height="86.00" fill="#fff" stroke="#444" stroke-width="1.0"/>
<line x1="419.50" y1="99.50" x2="419.50" y2="185.50" stroke="#444" stroke-width="1.0"/>
<line x1="457.50" y1="99.50" x2="457.50" y2="185.50" stroke="#444" stroke-width="1.0"/>
<line x1="355.50" y1="107.50" x2="500.50" y2="107.50" stroke="#222" stroke-width="2.0"/>
<line x1="355.50" y1="114.50" x2="500.50" y2="114.50" stroke="#444" stroke-width="1.0"/>
<line x1="355.50" y1="121.50" x2="500.50" y2="121.50" stroke="#444" stroke-width="1.0"/>
<line x1="355.50" y1="128.50" x2="500.50" y2="128.50" stroke="#444" stroke-width="1.0"/>
<line x1="355.50" y1="135.50" x2="500.50" y2="135.50" stroke="#444" stroke-width="1.0"/>
<line x1="355.50" y1="142.50" x2="500.50" y2="142.50" stroke="#444" stroke-width="1.0"/>
<line x1="355.50" y1="149.50" x2="500.50" y2="149.50" stroke="#444" stroke-width="1.0"/>
<line x1="355.50" y1="156.50" x2="500.50" y2="156.50" stroke="#444" stroke-width="1.0"/>
<line x1="355.50" y1="163.50" x2="500.50" y2="163.50" stroke="#444" stroke-width="1.0"/>
<line x1="355.50" y1="170.50" x2="500.50" y2="170.50" stroke="#444" stroke-width="1.0"/>
<line x1="355.50" y1="178.00" x2="500.50" y2="178.00" stroke="#404040" stroke-width="2.0"/>
<text x="387.50" y="106.10" font-size="5.6" text-anchor="middle" font-weight="normal" fill="#222" stroke="#222" stroke-width="0.12">Seropositive subject</text>
<text x="438.50" y="106.10" font-size="5.6" text-anchor="middle" font-weight="normal" fill="#222" stroke="#222" stroke-width="0.12">CD8+</text>
<text x="478.80" y="106.10" font-size="5.6" text-anchor="middle" font-weight="normal" fill="#222" stroke="#222" stroke-width="0.12">CD4+</text>
<text x="387.55" y="113.50" font-size="5.6" text-anchor="middle" font-weight="normal" fill="#222" stroke="#222" stroke-width="0.12">2</text>
<text x="438.50" y="113.50" font-size="5.6" text-anchor="middle" font-weight="normal" fill="#222" stroke="#222" stroke-width="0.12">90.7</text>
<text x="479.05" y="113.50" font-size="5.6" text-anchor="middle" font-weight="normal" fill="#222" stroke="#222" stroke-width="0.12">76.6</text>
<text x="387.55" y="120.50" font-size="5.6" text-anchor="middle" font-weight="normal" fill="#222" stroke="#222" stroke-width="0.12">8</text>
<text x="438.50" y="120.50" font-size="5.6" text-anchor="middle" font-weight="normal" fill="#222" stroke="#222" stroke-width="0.12">89.4</text>
<text x="479.05" y="120.50" font-size="5.6" text-anchor="middle" font-weight="normal" fill="#222" stroke="#222" stroke-width="0.12">46</text>
<text x="387.55" y="127.50" font-size="5.6" text-anchor="middle" font-weight="normal" fill="#222" stroke="#222" stroke-width="0.12">13</text>
<text x="438.50" y="127.50" font-size="5.6" text-anchor="middle" font-weight="normal" fill="#222" stroke="#222" stroke-width="0.12">89</text>
<text x="479.05" y="127.50" font-size="5.6" text-anchor="middle" font-weight="normal" fill="#222" stroke="#222" stroke-width="0.12">77.8</text>
<text x="387.55" y="134.50" font-size="5.6" text-anchor="middle" font-weight="normal" fill="#222" stroke="#222" stroke-width="0.12">14</text>
<text x="438.50" y="134.50" font-size="5.6" text-anchor="middle" font-weight="normal" fill="#222" stroke="#222" stroke-width="0.12">88.1</text>
<text x="479.05" y="134.50" font-size="5.6" text-anchor="middle" font-weight="normal" fill="#222" stroke="#222" stroke-width="0.12">84.3</text>
<text x="387.55" y="141.50" font-size="5.6" text-anchor="middle" font-weight="normal" fill="#222" stroke="#222" stroke-width="0.12">16</text>
<text x="438.50" y="141.50" font-size="5.6" text-anchor="middle" font-weight="normal" fill="#222" stroke="#222" stroke-width="0.12">94</text>
<text x="479.05" y="141.50" font-size="5.6" text-anchor="middle" font-weight="normal" fill="#222" stroke="#222" stroke-width="0.12">89.9</text>
<text x="387.55" y="148.50" font-size="5.6" text-anchor="middle" font-weight="normal" fill="#222" stroke="#222" stroke-width="0.12">17</text>
<text x="438.50" y="148.50" font-size="5.6" text-anchor="middle" font-weight="normal" fill="#222" stroke="#222" stroke-width="0.12">86</text>
<text x="479.05" y="148.50" font-size="5.6" text-anchor="middle" font-weight="normal" fill="#222" stroke="#222" stroke-width="0.12">60.6</text>
<text x="387.55" y="155.50" font-size="5.6" text-anchor="middle" font-weight="normal" fill="#222" stroke="#222" stroke-width="0.12">18</text>
<text x="438.50" y="155.50" font-size="5.6" text-anchor="middle" font-weight="normal" fill="#222" stroke="#222" stroke-width="0.12">92</text>
<text x="479.05" y="155.50" font-size="5.6" text-anchor="middle" font-weight="normal" fill="#222" stroke="#222" stroke-width="0.12">77.3</text>
<text x="387.55" y="162.50" font-size="5.6" text-anchor="middle" font-weight="normal" fill="#222" stroke="#222" stroke-width="0.12">20</text>
<text x="438.50" y="162.50" font-size="5.6" text-anchor="middle" font-weight="normal" fill="#222" stroke="#222" stroke-width="0.12">98.6</text>
<text x="479.05" y="162.50" font-size="5.6" text-anchor="middle" font-weight="normal" fill="#222" stroke="#222" stroke-width="0.12">89.4</text>
<text x="387.55" y="169.50" font-size="5.6" text-anchor="middle" font-weight="normal" fill="#222" stroke="#222" stroke-width="0.12">22</text>
<text x="438.50" y="169.50" font-size="5.6" text-anchor="middle" font-weight="normal" fill="#222" stroke="#222" stroke-width="0.12">96.7</text>
<text x="479.05" y="169.50" font-size="5.6" text-anchor="middle" font-weight="normal" fill="#222" stroke="#222" stroke-width="0.12">64.2</text>
<text x="387.55" y="176.50" font-size="5.6" text-anchor="middle" font-weight="normal" fill="#222" stroke="#222" stroke-width="0.12">26</text>
<text x="438.50" y="176.50" font-size="5.6" text-anchor="middle" font-weight="normal" fill="#222" stroke="#222" stroke-width="0.12">100</text>
<text x="479.05" y="176.50" font-size="5.6" text-anchor="middle" font-weight="normal" fill="#222" stroke="#222" stroke-width="0.12">100</text>
<text x="387.55" y="184.50" font-size="5.6" text-anchor="middle" font-weight="normal" fill="#222" stroke="#222" stroke-width="0.12">Mean</text>
<text x="438.50" y="184.50" font-size="5.6" text-anchor="middle" font-weight="normal" fill="#222" stroke="#222" stroke-width="0.12">92.45</text>
<text x="479.05" y="184.50" font-size="5.6" text-anchor="middle" font-weight="normal" fill="#222" stroke="#222" stroke-width="0.12">76.61</text>
<rect x="2.50" y="278.10" width="165.20" height="66.00" fill="#fff" stroke="#3c3c3c" stroke-width="0.68"/>
<line x1="48.50" y1="278.10" x2="48.50" y2="344.10" stroke="#3c3c3c" stroke-width="0.68"/>
<line x1="75.80" y1="278.10" x2="75.80" y2="344.10" stroke="#3c3c3c" stroke-width="0.68"/>
<line x1="106.30" y1="278.10" x2="106.30" y2="344.10" stroke="#3c3c3c" stroke-width="0.68"/>
<line x1="139.30" y1="278.10" x2="139.30" y2="344.10" stroke="#3c3c3c" stroke-width="0.68"/>
<line x1="2.50" y1="288.50" x2="167.70" y2="288.50" stroke="#222" stroke-width="1.36"/>
<line x1="2.50" y1="293.43" x2="167.70" y2="293.43" stroke="#3c3c3c" stroke-width="0.68"/>
<line x1="2.50" y1="298.36" x2="167.70" y2="298.36" stroke="#3c3c3c" stroke-width="0.68"/>
<line x1="2.50" y1="303.29" x2="167.70" y2="303.29" stroke="#3c3c3c" stroke-width="0.68"/>
<line x1="2.50" y1="308.22" x2="167.70" y2="308.22" stroke="#3c3c3c" stroke-width="0.68"/>
<line x1="2.50" y1="313.15" x2="167.70" y2="313.15" stroke="#3c3c3c" stroke-width="0.68"/>
<line x1="2.50" y1="318.08" x2="167.70" y2="318.08" stroke="#3c3c3c" stroke-width="0.68"/>
<line x1="2.50" y1="323.01" x2="167.70" y2="323.01" stroke="#3c3c3c" stroke-width="0.68"/>
<line x1="2.50" y1="327.94" x2="167.70" y2="327.94" stroke="#3c3c3c" stroke-width="0.68"/>
<line x1="2.50" y1="332.87" x2="167.70" y2="332.87" stroke="#3c3c3c" stroke-width="0.68"/>
<line x1="2.50" y1="337.20" x2="167.70" y2="337.20" stroke="#222" stroke-width="0.8160000000000001"/>
<line x1="2.50" y1="338.40" x2="167.70" y2="338.40" stroke="#222" stroke-width="0.8160000000000001"/>
<text x="25.50" y="281.70" font-size="4.2" text-anchor="middle" font-weight="normal" fill="#2a2a2a" stroke="#2a2a2a" stroke-width="0.05">Seropositive subject</text>
<text x="25.50" y="286.80" font-size="4.2" text-anchor="middle" font-weight="normal" fill="#2a2a2a" stroke="#2a2a2a" stroke-width="0.05">number</text>
<text x="61.90" y="287.60" font-size="4.2" text-anchor="middle" font-weight="normal" fill="#2a2a2a" stroke="#2a2a2a" stroke-width="0.05">Naive</text>
<text x="91.00" y="287.60" font-size="4.2" text-anchor="middle" font-weight="normal" fill="#2a2a2a" stroke="#2a2a2a" stroke-width="0.05">Central memory</text>
<text x="122.80" y="287.60" font-size="4.2" text-anchor="middle" font-weight="normal" fill="#2a2a2a" stroke="#2a2a2a" stroke-width="0.05">Effector memory</text>
<text x="153.40" y="287.60" font-size="4.2" text-anchor="middle" font-weight="normal" fill="#2a2a2a" stroke="#2a2a2a" stroke-width="0.05">EMRA+</text>
<text x="25.50" y="292.53" font-size="3.8" text-anchor="middle" font-weight="normal" fill="#2a2a2a" stroke="#2a2a2a" stroke-width="0.05">2</text>
<text x="62.15" y="292.53" font-size="3.8" text-anchor="middle" font-weight="normal" fill="#2a2a2a" stroke="#2a2a2a" stroke-width="0.05">0.6</text>
<text x="91.05" y="292.53" font-size="3.8" text-anchor="middle" font-weight="normal" fill="#2a2a2a" stroke="#2a2a2a" stroke-width="0.05">2.1</text>
<text x="122.80" y="292.53" font-size="3.8" text-anchor="middle" font-weight="normal" fill="#2a2a2a" stroke="#2a2a2a" stroke-width="0.05">14.5</text>
<text x="153.50" y="292.53" font-size="3.8" text-anchor="middle" font-weight="normal" fill="#2a2a2a" stroke="#2a2a2a" stroke-width="0.05">2.9</text>
<text x="25.50" y="297.46" font-size="3.8" text-anchor="middle" font-weight="normal" fill="#2a2a2a" stroke="#2a2a2a" stroke-width="0.05">8</text>
<text x="62.15" y="297.46" font-size="3.8" text-anchor="middle" font-weight="normal" fill="#2a2a2a" stroke="#2a2a2a" stroke-width="0.05">1.1</text>
<text x="91.05" y="297.46" font-size="3.8" text-anchor="middle" font-weight="normal" fill="#2a2a2a" stroke="#2a2a2a" stroke-width="0.05">0</text>
<text x="122.80" y="297.46" font-size="3.8" text-anchor="middle" font-weight="normal" fill="#2a2a2a" stroke="#2a2a2a" stroke-width="0.05">4.2</text>
<text x="153.50" y="297.46" font-size="3.8" text-anchor="middle" font-weight="normal" fill="#2a2a2a" stroke="#2a2a2a" stroke-width="0.05">3.3</text>
<text x="25.50" y="302.39" font-size="3.8" text-anchor="middle" font-weight="normal" fill="#2a2a2a" stroke="#2a2a2a" stroke-width="0.05">13</text>
<text x="62.15" y="302.39" font-size="3.8" text-anchor="middle" font-weight="normal" fill="#2a2a2a" stroke="#2a2a2a" stroke-width="0.05">1.3</text>
<text x="91.05" y="302.39" font-size="3.8" text-anchor="middle" font-weight="normal" fill="#2a2a2a" stroke="#2a2a2a" stroke-width="0.05">13.5</text>
<text x="122.80" y="302.39" font-size="3.8" text-anchor="middle" font-weight="normal" fill="#2a2a2a" stroke="#2a2a2a" stroke-width="0.05">8.5</text>
<text x="153.50" y="302.39" font-size="3.8" text-anchor="middle" font-weight="normal" fill="#2a2a2a" stroke="#2a2a2a" stroke-width="0.05">10.7</text>
<text x="25.50" y="307.32" font-size="3.8" text-anchor="middle" font-weight="normal" fill="#2a2a2a" stroke="#2a2a2a" stroke-width="0.05">14</text>
<text x="62.15" y="307.32" font-size="3.8" text-anchor="middle" font-weight="normal" fill="#2a2a2a" stroke="#2a2a2a" stroke-width="0.05">2.4</text>
<text x="91.05" y="307.32" font-size="3.8" text-anchor="middle" font-weight="normal" fill="#2a2a2a" stroke="#2a2a2a" stroke-width="0.05">0.2</text>
<text x="122.80" y="307.32" font-size="3.8" text-anchor="middle" font-weight="normal" fill="#2a2a2a" stroke="#2a2a2a" stroke-width="0.05">6.1</text>
<text x="153.50" y="307.32" font-size="3.8" text-anchor="middle" font-weight="normal" fill="#2a2a2a" stroke="#2a2a2a" stroke-width="0.05">2.5</text>
<text x="25.50" y="312.25" font-size="3.8" text-anchor="middle" font-weight="normal" fill="#2a2a2a" stroke="#2a2a2a" stroke-width="0.05">16</text>
<text x="62.15" y="312.25" font-size="3.8" text-anchor="middle" font-weight="normal" fill="#2a2a2a" stroke="#2a2a2a" stroke-width="0.05">0.7</text>
<text x="91.05" y="312.25" font-size="3.8" text-anchor="middle" font-weight="normal" fill="#2a2a2a" stroke="#2a2a2a" stroke-width="0.05">1.2</text>
<text x="122.80" y="312.25" font-size="3.8" text-anchor="middle" font-weight="normal" fill="#2a2a2a" stroke="#2a2a2a" stroke-width="0.05">5.4</text>
<text x="153.50" y="312.25" font-size="3.8" text-anchor="middle" font-weight="normal" fill="#2a2a2a" stroke="#2a2a2a" stroke-width="0.05">11.6</text>
<text x="25.50" y="317.18" font-size="3.8" text-anchor="middle" font-weight="normal" fill="#2a2a2a" stroke="#2a2a2a" stroke-width="0.05">17</text>
<text x="62.15" y="317.18" font-size="3.8" text-anchor="middle" font-weight="normal" fill="#2a2a2a" stroke="#2a2a2a" stroke-width="0.05">2.3</text>
<text x="91.05" y="317.18" font-size="3.8" text-anchor="middle" font-weight="normal" fill="#2a2a2a" stroke="#2a2a2a" stroke-width="0.05">0.1</text>
<text x="122.80" y="317.18" font-size="3.8" text-anchor="middle" font-weight="normal" fill="#2a2a2a" stroke="#2a2a2a" stroke-width="0.05">3.7</text>
<text x="153.50" y="317.18" font-size="3.8" text-anchor="middle" font-weight="normal" fill="#2a2a2a" stroke="#2a2a2a" stroke-width="0.05">4.8</text>
<text x="25.50" y="322.11" font-size="3.8" text-anchor="middle" font-weight="normal" fill="#2a2a2a" stroke="#2a2a2a" stroke-width="0.05">18</text>
<text x="62.15" y="322.11" font-size="3.8" text-anchor="middle" font-weight="normal" fill="#2a2a2a" stroke="#2a2a2a" stroke-width="0.05">0.4</text>
<text x="91.05" y="322.11" font-size="3.8" text-anchor="middle" font-weight="normal" fill="#2a2a2a" stroke="#2a2a2a" stroke-width="0.05">3</text>
<text x="122.80" y="322.11" font-size="3.8" text-anchor="middle" font-weight="normal" fill="#2a2a2a" stroke="#2a2a2a" stroke-width="0.05">4.4</text>
<text x="153.50" y="322.11" font-size="3.8" text-anchor="middle" font-weight="normal" fill="#2a2a2a" stroke="#2a2a2a" stroke-width="0.05">2.6</text>
<text x="25.50" y="327.04" font-size="3.8" text-anchor="middle" font-weight="normal" fill="#2a2a2a" stroke="#2a2a2a" stroke-width="0.05">20</text>
<text x="62.15" y="327.04" font-size="3.8" text-anchor="middle" font-weight="normal" fill="#2a2a2a" stroke="#2a2a2a" stroke-width="0.05">0.6</text>
<text x="91.05" y="327.04" font-size="3.8" text-anchor="middle" font-weight="normal" fill="#2a2a2a" stroke="#2a2a2a" stroke-width="0.05">0.4</text>
<text x="122.80" y="327.04" font-size="3.8" text-anchor="middle" font-weight="normal" fill="#2a2a2a" stroke="#2a2a2a" stroke-width="0.05">6.6</text>
<text x="153.50" y="327.04" font-size="3.8" text-anchor="middle" font-weight="normal" fill="#2a2a2a" stroke="#2a2a2a" stroke-width="0.05">7.2</text>
<text x="25.50" y="331.97" font-size="3.8" text-anchor="middle" font-weight="normal" fill="#2a2a2a" stroke="#2a2a2a" stroke-width="0.05">22</text>
<text x="62.15" y="331.97" font-size="3.8" text-anchor="middle" font-weight="normal" fill="#2a2a2a" stroke="#2a2a2a" stroke-width="0.05">2.3</text>
<text x="91.05" y="331.97" font-size="3.8" text-anchor="middle" font-weight="normal" fill="#2a2a2a" stroke="#2a2a2a" stroke-width="0.05">0.6</text>
<text x="122.80" y="331.97" font-size="3.8" text-anchor="middle" font-weight="normal" fill="#2a2a2a" stroke="#2a2a2a" stroke-width="0.05">14.9</text>
<text x="153.50" y="331.97" font-size="3.8" text-anchor="middle" font-weight="normal" fill="#2a2a2a" stroke="#2a2a2a" stroke-width="0.05">4.8</text>
<text x="25.50" y="336.90" font-size="3.8" text-anchor="middle" font-weight="normal" fill="#2a2a2a" stroke="#2a2a2a" stroke-width="0.05">26</text>
<text x="62.15" y="336.90" font-size="3.8" text-anchor="middle" font-weight="normal" fill="#2a2a2a" stroke="#2a2a2a" stroke-width="0.05">0</text>
<text x="91.05" y="336.90" font-size="3.8" text-anchor="middle" font-weight="normal" fill="#2a2a2a" stroke="#2a2a2a" stroke-width="0.05">0.7</text>
<text x="122.80" y="336.90" font-size="3.8" text-anchor="middle" font-weight="normal" fill="#2a2a2a" stroke="#2a2a2a" stroke-width="0.05">12.5</text>
<text x="153.50" y="336.90" font-size="3.8" text-anchor="middle" font-weight="normal" fill="#2a2a2a" stroke="#2a2a2a" stroke-width="0.05">3.6</text>
<text x="25.50" y="343.20" font-size="3.8" text-anchor="middle" font-weight="normal" fill="#2a2a2a" stroke="#2a2a2a" stroke-width="0.05">Mean</text>
<text x="62.15" y="343.20" font-size="3.8" text-anchor="middle" font-weight="normal" fill="#2a2a2a" stroke="#2a2a2a" stroke-width="0.05">1.16</text>
<text x="91.05" y="343.20" font-size="3.8" text-anchor="middle" font-weight="normal" fill="#2a2a2a" stroke="#2a2a2a" stroke-width="0.05">2.2</text>
<text x="122.80" y="343.20" font-size="3.8" text-anchor="middle" font-weight="normal" fill="#2a2a2a" stroke="#2a2a2a" stroke-width="0.05">8.09</text>
<text x="153.50" y="343.20" font-size="3.8" text-anchor="middle" font-weight="normal" fill="#2a2a2a" stroke="#2a2a2a" stroke-width="0.05">5.4</text>
<rect x="179.50" y="273.50" width="156.00" height="77.00" fill="#fff" stroke="#505050" stroke-width="1.0"/>
<line x1="231.50" y1="273.50" x2="231.50" y2="350.50" stroke="#505050" stroke-width="1.0"/>
<line x1="262.50" y1="273.50" x2="262.50" y2="350.50" stroke="#505050" stroke-width="1.0"/>
<line x1="298.50" y1="273.50" x2="298.50" y2="350.50" stroke="#505050" stroke-width="1.0"/>
<line x1="179.50" y1="286.50" x2="335.50" y2="286.50" stroke="#222" stroke-width="1.0"/>
<line x1="179.50" y1="291.50" x2="335.50" y2="291.50" stroke="#505050" stroke-width="1.0"/>
<line x1="179.50" y1="297.50" x2="335.50" y2="297.50" stroke="#505050" stroke-width="1.0"/>
<line x1="179.50" y1="303.50" x2="335.50" y2="303.50" stroke="#505050" stroke-width="1.0"/>
<line x1="179.50" y1="309.50" x2="335.50" y2="309.50" stroke="#505050" stroke-width="1.0"/>
<line x1="179.50" y1="314.50" x2="335.50" y2="314.50" stroke="#505050" stroke-width="1.0"/>
<line x1="179.50" y1="320.50" x2="335.50" y2="320.50" stroke="#505050" stroke-width="1.0"/>
<line x1="179.50" y1="326.50" x2="335.50" y2="326.50" stroke="#505050" stroke-width="1.0"/>
<line x1="179.50" y1="332.50" x2="335.50" y2="332.50" stroke="#505050" stroke-width="1.0"/>
<line x1="179.50" y1="338.50" x2="335.50" y2="338.50" stroke="#505050" stroke-width="1.0"/>
<line x1="179.50" y1="344.00" x2="335.50" y2="344.00" stroke="#404040" stroke-width="2.0"/>
<text x="205.20" y="278.80" font-size="4.6" text-anchor="middle" font-weight="normal" fill="#222" stroke="#222" stroke-width="0.12">Seropositive subject</text>
<text x="205.20" y="284.60" font-size="4.6" text-anchor="middle" font-weight="normal" fill="#222" stroke="#222" stroke-width="0.12">number:</text>
<text x="246.90" y="285.20" font-size="4.6" text-anchor="middle" font-weight="normal" fill="#222" stroke="#222" stroke-width="0.12">Naive</text>
<text x="280.40" y="285.20" font-size="4.6" text-anchor="middle" font-weight="normal" fill="#222" stroke="#222" stroke-width="0.12">Central memory</text>
<text x="316.60" y="285.20" font-size="4.6" text-anchor="middle" font-weight="normal" fill="#222" stroke="#222" stroke-width="0.12">Effector memory</text>
<text x="205.20" y="291.10" font-size="4.6" text-anchor="middle" font-weight="normal" fill="#222" stroke="#222" stroke-width="0.12">2</text>
<text x="246.90" y="291.10" font-size="4.6" text-anchor="middle" font-weight="normal" fill="#222" stroke="#222" stroke-width="0.12">2.7</text>
<text x="280.40" y="291.10" font-size="4.6" text-anchor="middle" font-weight="normal" fill="#222" stroke="#222" stroke-width="0.12">1.2</text>
<text x="316.65" y="291.10" font-size="4.6" text-anchor="middle" font-weight="normal" fill="#222" stroke="#222" stroke-width="0.12">3.8</text>
<text x="205.20" y="297.10" font-size="4.6" text-anchor="middle" font-weight="normal" fill="#222" stroke="#222" stroke-width="0.12">8</text>
<text x="246.90" y="297.10" font-size="4.6" text-anchor="middle" font-weight="normal" fill="#222" stroke="#222" stroke-width="0.12">6.8</text>
<text x="280.40" y="297.10" font-size="4.6" text-anchor="middle" font-weight="normal" fill="#222" stroke="#222" stroke-width="0.12">0</text>
<text x="316.65" y="297.10" font-size="4.6" text-anchor="middle" font-weight="normal" fill="#222" stroke="#222" stroke-width="0.12">2.7</text>
<text x="205.20" y="303.10" font-size="4.6" text-anchor="middle" font-weight="normal" fill="#222" stroke="#222" stroke-width="0.12">13</text>
<text x="246.90" y="303.10" font-size="4.6" text-anchor="middle" font-weight="normal" fill="#222" stroke="#222" stroke-width="0.12">2.4</text>
<text x="280.40" y="303.10" font-size="4.6" text-anchor="middle" font-weight="normal" fill="#222" stroke="#222" stroke-width="0.12">1.7</text>
<text x="316.65" y="303.10" font-size="4.6" text-anchor="middle" font-weight="normal" fill="#222" stroke="#222" stroke-width="0.12">2.4</text>
<text x="205.20" y="309.10" font-size="4.6" text-anchor="middle" font-weight="normal" fill="#222" stroke="#222" stroke-width="0.12">14</text>
<text x="246.90" y="309.10" font-size="4.6" text-anchor="middle" font-weight="normal" fill="#222" stroke="#222" stroke-width="0.12">4</text>
<text x="280.40" y="309.10" font-size="4.6" text-anchor="middle" font-weight="normal" fill="#222" stroke="#222" stroke-width="0.12">0.6</text>
<text x="316.65" y="309.10" font-size="4.6" text-anchor="middle" font-weight="normal" fill="#222" stroke="#222" stroke-width="0.12">4.7</text>
<text x="205.20" y="314.10" font-size="4.6" text-anchor="middle" font-weight="normal" fill="#222" stroke="#222" stroke-width="0.12">16</text>
<text x="246.90" y="314.10" font-size="4.6" text-anchor="middle" font-weight="normal" fill="#222" stroke="#222" stroke-width="0.12">1.1</text>
<text x="280.40" y="314.10" font-size="4.6" text-anchor="middle" font-weight="normal" fill="#222" stroke="#222" stroke-width="0.12">0.5</text>
<text x="316.65" y="314.10" font-size="4.6" text-anchor="middle" font-weight="normal" fill="#222" stroke="#222" stroke-width="0.12">3</text>
<text x="205.20" y="320.10" font-size="4.6" text-anchor="middle" font-weight="normal" fill="#222" stroke="#222" stroke-width="0.12">17</text>
<text x="246.90" y="320.10" font-size="4.6" text-anchor="middle" font-weight="normal" fill="#222" stroke="#222" stroke-width="0.12">6.6</text>
<text x="280.40" y="320.10" font-size="4.6" text-anchor="middle" font-weight="normal" fill="#222" stroke="#222" stroke-width="0.12">0</text>
<text x="316.65" y="320.10" font-size="4.6" text-anchor="middle" font-weight="normal" fill="#222" stroke="#222" stroke-width="0.12">2.4</text>
<text x="205.20" y="326.10" font-size="4.6" text-anchor="middle" font-weight="normal" fill="#222" stroke="#222" stroke-width="0.12">18</text>
<text x="246.90" y="326.10" font-size="4.6" text-anchor="middle" font-weight="normal" fill="#222" stroke="#222" stroke-width="0.12">0.1</text>
<text x="280.40" y="326.10" font-size="4.6" text-anchor="middle" font-weight="normal" fill="#222" stroke="#222" stroke-width="0.12">0</text>
<text x="316.65" y="326.10" font-size="4.6" text-anchor="middle" font-weight="normal" fill="#222" stroke="#222" stroke-width="0.12">3.6</text>
<text x="205.20" y="332.10" font-size="4.6" text-anchor="middle" font-weight="normal" fill="#222" stroke="#222" stroke-width="0.12">20</text>
<text x="246.90" y="332.10" font-size="4.6" text-anchor="middle" font-weight="normal" fill="#222" stroke="#222" stroke-width="0.12">0.08</text>
<text x="280.40" y="332.10" font-size="4.6" text-anchor="middle" font-weight="normal" fill="#222" stroke="#222" stroke-width="0.12">1.1</text>
<text x="316.65" y="332.10" font-size="4.6" text-anchor="middle" font-weight="normal" fill="#222" stroke="#222" stroke-width="0.12">3.3</text>
<text x="205.20" y="338.10" font-size="4.6" text-anchor="middle" font-weight="normal" fill="#222" stroke="#222" stroke-width="0.12">22</text>
<text x="246.90" y="338.10" font-size="4.6" text-anchor="middle" font-weight="normal" fill="#222" stroke="#222" stroke-width="0.12">7.3</text>
<text x="280.40" y="338.10" font-size="4.6" text-anchor="middle" font-weight="normal" fill="#222" stroke="#222" stroke-width="0.12">0.5</text>
<text x="316.65" y="338.10" font-size="4.6" text-anchor="middle" font-weight="normal" fill="#222" stroke="#222" stroke-width="0.12">4</text>
<text x="205.20" y="343.10" font-size="4.6" text-anchor="middle" font-weight="normal" fill="#222" stroke="#222" stroke-width="0.12">26</text>
<text x="246.90" y="343.10" font-size="4.6" text-anchor="middle" font-weight="normal" fill="#222" stroke="#222" stroke-width="0.12">0</text>
<text x="280.40" y="343.10" font-size="4.6" text-anchor="middle" font-weight="normal" fill="#222" stroke="#222" stroke-width="0.12">0</text>
<text x="316.65" y="343.10" font-size="4.6" text-anchor="middle" font-weight="normal" fill="#222" stroke="#222" stroke-width="0.12">4.1</text>
<text x="205.20" y="350.10" font-size="4.6" text-anchor="middle" font-weight="normal" fill="#222" stroke="#222" stroke-width="0.12">Mean</text>
<text x="246.90" y="350.10" font-size="4.6" text-anchor="middle" font-weight="normal" fill="#222" stroke="#222" stroke-width="0.12">3.11</text>
<text x="280.40" y="350.10" font-size="4.6" text-anchor="middle" font-weight="normal" fill="#222" stroke="#222" stroke-width="0.12">0.54</text>
<text x="316.65" y="350.10" font-size="4.6" text-anchor="middle" font-weight="normal" fill="#222" stroke="#222" stroke-width="0.12">3.4</text>
</svg>
</body></html>
